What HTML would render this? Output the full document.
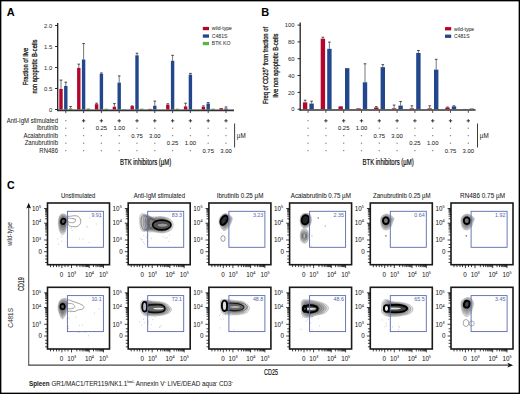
<!DOCTYPE html>
<html><head><meta charset="utf-8"><style>
html,body{margin:0;padding:0;background:#fff;}
svg{display:block;font-family:"Liberation Sans", sans-serif;}
</style></head><body>
<svg width="520" height="394" viewBox="0 0 520 394">
<rect x="0.68" y="0.68" width="518.64" height="392.64" fill="#fff" stroke="#000" stroke-width="1.36"/>
<text x="6.8" y="16.1" font-size="11.8" font-weight="bold" fill="#000" stroke="#000" stroke-width="0.04" textLength="7.93" lengthAdjust="spacingAndGlyphs">A</text>
<line x1="61" y1="80.1" x2="61" y2="88.92" stroke="#555" stroke-width="0.8"/>
<line x1="59.7" y1="80.1" x2="62.3" y2="80.1" stroke="#333" stroke-width="0.9"/>
<rect x="59.3" y="88.92" width="3.4" height="20.58" fill="#b3062a"/>
<line x1="78.8" y1="64.14" x2="78.8" y2="67.92" stroke="#555" stroke-width="0.8"/>
<line x1="77.5" y1="64.14" x2="80.1" y2="64.14" stroke="#333" stroke-width="0.9"/>
<rect x="77.1" y="67.92" width="3.4" height="41.58" fill="#b3062a"/>
<line x1="96.6" y1="103.2" x2="96.6" y2="104.21" stroke="#555" stroke-width="0.8"/>
<line x1="95.3" y1="103.2" x2="97.9" y2="103.2" stroke="#333" stroke-width="0.9"/>
<rect x="94.9" y="104.21" width="3.4" height="5.29" fill="#b3062a"/>
<line x1="114.4" y1="103.62" x2="114.4" y2="106.69" stroke="#555" stroke-width="0.8"/>
<line x1="113.1" y1="103.62" x2="115.7" y2="103.62" stroke="#333" stroke-width="0.9"/>
<rect x="112.7" y="106.69" width="3.4" height="2.81" fill="#b3062a"/>
<line x1="132.2" y1="105.93" x2="132.2" y2="106.14" stroke="#555" stroke-width="0.8"/>
<line x1="130.9" y1="105.93" x2="133.5" y2="105.93" stroke="#333" stroke-width="0.9"/>
<rect x="130.5" y="106.14" width="3.4" height="3.36" fill="#b3062a"/>
<rect x="148.3" y="108.87" width="3.4" height="0.63" fill="#b3062a"/>
<line x1="167.8" y1="103.79" x2="167.8" y2="104.71" stroke="#555" stroke-width="0.8"/>
<line x1="166.5" y1="103.79" x2="169.1" y2="103.79" stroke="#333" stroke-width="0.9"/>
<rect x="166.1" y="104.71" width="3.4" height="4.79" fill="#b3062a"/>
<line x1="185.6" y1="103.2" x2="185.6" y2="106.39" stroke="#555" stroke-width="0.8"/>
<line x1="184.3" y1="103.2" x2="186.9" y2="103.2" stroke="#333" stroke-width="0.9"/>
<rect x="183.9" y="106.39" width="3.4" height="3.11" fill="#b3062a"/>
<line x1="203.4" y1="105.89" x2="203.4" y2="106.81" stroke="#555" stroke-width="0.8"/>
<line x1="202.1" y1="105.89" x2="204.7" y2="105.89" stroke="#333" stroke-width="0.9"/>
<rect x="201.7" y="106.81" width="3.4" height="2.69" fill="#b3062a"/>
<rect x="219.5" y="108.11" width="3.4" height="1.39" fill="#b3062a"/>
<line x1="65.8" y1="82.2" x2="65.8" y2="85.98" stroke="#555" stroke-width="0.8"/>
<line x1="64.5" y1="82.2" x2="67.1" y2="82.2" stroke="#333" stroke-width="0.9"/>
<rect x="64.1" y="85.98" width="3.4" height="23.52" fill="#23478c"/>
<line x1="83.6" y1="43.56" x2="83.6" y2="59.52" stroke="#555" stroke-width="0.8"/>
<line x1="82.3" y1="43.56" x2="84.9" y2="43.56" stroke="#333" stroke-width="0.9"/>
<rect x="81.9" y="59.52" width="3.4" height="49.98" fill="#23478c"/>
<line x1="101.4" y1="72.96" x2="101.4" y2="73.8" stroke="#555" stroke-width="0.8"/>
<line x1="100.1" y1="72.96" x2="102.7" y2="72.96" stroke="#333" stroke-width="0.9"/>
<rect x="99.7" y="73.8" width="3.4" height="35.7" fill="#23478c"/>
<line x1="119.2" y1="75.9" x2="119.2" y2="82.62" stroke="#555" stroke-width="0.8"/>
<line x1="117.9" y1="75.9" x2="120.5" y2="75.9" stroke="#333" stroke-width="0.9"/>
<rect x="117.5" y="82.62" width="3.4" height="26.88" fill="#23478c"/>
<line x1="137" y1="53.22" x2="137" y2="55.32" stroke="#555" stroke-width="0.8"/>
<line x1="135.7" y1="53.22" x2="138.3" y2="53.22" stroke="#333" stroke-width="0.9"/>
<rect x="135.3" y="55.32" width="3.4" height="54.18" fill="#23478c"/>
<line x1="154.8" y1="101.1" x2="154.8" y2="105.72" stroke="#555" stroke-width="0.8"/>
<line x1="153.5" y1="101.1" x2="156.1" y2="101.1" stroke="#333" stroke-width="0.9"/>
<rect x="153.1" y="105.72" width="3.4" height="3.78" fill="#23478c"/>
<line x1="172.6" y1="55.32" x2="172.6" y2="60.78" stroke="#555" stroke-width="0.8"/>
<line x1="171.3" y1="55.32" x2="173.9" y2="55.32" stroke="#333" stroke-width="0.9"/>
<rect x="170.9" y="60.78" width="3.4" height="48.72" fill="#23478c"/>
<line x1="190.4" y1="73.38" x2="190.4" y2="74.64" stroke="#555" stroke-width="0.8"/>
<line x1="189.1" y1="73.38" x2="191.7" y2="73.38" stroke="#333" stroke-width="0.9"/>
<rect x="188.7" y="74.64" width="3.4" height="34.86" fill="#23478c"/>
<line x1="208.2" y1="102.57" x2="208.2" y2="103.49" stroke="#555" stroke-width="0.8"/>
<line x1="206.9" y1="102.57" x2="209.5" y2="102.57" stroke="#333" stroke-width="0.9"/>
<rect x="206.5" y="103.49" width="3.4" height="6.01" fill="#23478c"/>
<line x1="226" y1="106.98" x2="226" y2="108.49" stroke="#555" stroke-width="0.8"/>
<line x1="224.7" y1="106.98" x2="227.3" y2="106.98" stroke="#333" stroke-width="0.9"/>
<rect x="224.3" y="108.49" width="3.4" height="1.01" fill="#23478c"/>
<line x1="70.6" y1="106.56" x2="70.6" y2="108.24" stroke="#555" stroke-width="0.8"/>
<line x1="69.3" y1="106.56" x2="71.9" y2="106.56" stroke="#333" stroke-width="0.9"/>
<rect x="68.9" y="108.24" width="3.4" height="1.26" fill="#5bb446"/>
<rect x="86.7" y="108.45" width="3.4" height="1.05" fill="#5bb446"/>
<rect x="104.5" y="108.66" width="3.4" height="0.84" fill="#5bb446"/>
<rect x="122.3" y="109.16" width="3.4" height="0.34" fill="#5bb446"/>
<rect x="140.1" y="108.66" width="3.4" height="0.84" fill="#5bb446"/>
<rect x="175.7" y="108.66" width="3.4" height="0.84" fill="#5bb446"/>
<rect x="211.3" y="108.66" width="3.4" height="0.84" fill="#5bb446"/>
<line x1="57.7" y1="22.9" x2="57.7" y2="111" stroke="#222" stroke-width="1.3"/>
<line x1="57.1" y1="110.3" x2="234" y2="110.3" stroke="#333" stroke-width="1.7"/>
<line x1="55.1" y1="25.5" x2="57.7" y2="25.5" stroke="#222" stroke-width="1"/>
<text x="52.2" y="27.6" font-size="5.9" text-anchor="end" fill="#333" stroke="#333" stroke-width="0.04">2.0</text>
<line x1="55.1" y1="46.5" x2="57.7" y2="46.5" stroke="#222" stroke-width="1"/>
<text x="52.2" y="48.6" font-size="5.9" text-anchor="end" fill="#333" stroke="#333" stroke-width="0.04">1.5</text>
<line x1="55.1" y1="67.5" x2="57.7" y2="67.5" stroke="#222" stroke-width="1"/>
<text x="52.2" y="69.6" font-size="5.9" text-anchor="end" fill="#333" stroke="#333" stroke-width="0.04">1.0</text>
<line x1="55.1" y1="88.5" x2="57.7" y2="88.5" stroke="#222" stroke-width="1"/>
<text x="52.2" y="90.6" font-size="5.9" text-anchor="end" fill="#333" stroke="#333" stroke-width="0.04">0.5</text>
<line x1="55.1" y1="109.5" x2="57.7" y2="109.5" stroke="#222" stroke-width="1"/>
<text x="52.2" y="111.6" font-size="5.9" text-anchor="end" fill="#333" stroke="#333" stroke-width="0.04">0</text>
<line x1="65.8" y1="111" x2="65.8" y2="113.1" stroke="#222" stroke-width="0.8"/>
<line x1="83.6" y1="111" x2="83.6" y2="113.1" stroke="#222" stroke-width="0.8"/>
<line x1="101.4" y1="111" x2="101.4" y2="113.1" stroke="#222" stroke-width="0.8"/>
<line x1="119.2" y1="111" x2="119.2" y2="113.1" stroke="#222" stroke-width="0.8"/>
<line x1="137" y1="111" x2="137" y2="113.1" stroke="#222" stroke-width="0.8"/>
<line x1="154.8" y1="111" x2="154.8" y2="113.1" stroke="#222" stroke-width="0.8"/>
<line x1="172.6" y1="111" x2="172.6" y2="113.1" stroke="#222" stroke-width="0.8"/>
<line x1="190.4" y1="111" x2="190.4" y2="113.1" stroke="#222" stroke-width="0.8"/>
<line x1="208.2" y1="111" x2="208.2" y2="113.1" stroke="#222" stroke-width="0.8"/>
<line x1="226" y1="111" x2="226" y2="113.1" stroke="#222" stroke-width="0.8"/>
<rect x="202.8" y="26.9" width="6.2" height="3.3" fill="#b3062a"/>
<text x="211.8" y="30.4" font-size="5.1" fill="#333" stroke="#333" stroke-width="0.05">wild-type</text>
<rect x="202.8" y="34.4" width="6.2" height="3.3" fill="#23478c"/>
<text x="211.8" y="37.9" font-size="5.1" fill="#333" stroke="#333" stroke-width="0.05">C481S</text>
<rect x="202.8" y="41.9" width="6.2" height="3.3" fill="#5bb446"/>
<text x="211.8" y="45.4" font-size="5.1" fill="#333" stroke="#333" stroke-width="0.05">BTK KO</text>
<g transform="translate(27.5,66.5) rotate(-90)">
<text x="0" y="0" font-size="7.4" text-anchor="middle" fill="#111" stroke="#111" stroke-width="0.28" textLength="37.3" lengthAdjust="spacingAndGlyphs">Fraction of live</text>
</g>
<g transform="translate(37.3,66.6) rotate(-90)">
<text x="0" y="0" font-size="7.4" text-anchor="middle" fill="#111" stroke="#111" stroke-width="0.28" textLength="54" lengthAdjust="spacingAndGlyphs">non apoptotic B-cells</text>
</g>
<text x="58" y="122.7" font-size="6.4" text-anchor="end" fill="#1e1e1e" stroke="#1e1e1e" stroke-width="0.04" textLength="51.22" lengthAdjust="spacingAndGlyphs">Anti-IgM stimulated</text>
<line x1="65.2" y1="120.7" x2="66.4" y2="120.7" stroke="#444" stroke-width="0.8"/>
<line x1="81.9" y1="120.8" x2="85.3" y2="120.8" stroke="#222" stroke-width="0.85"/>
<line x1="83.6" y1="119.1" x2="83.6" y2="122.5" stroke="#222" stroke-width="0.85"/>
<line x1="99.7" y1="120.8" x2="103.1" y2="120.8" stroke="#222" stroke-width="0.85"/>
<line x1="101.4" y1="119.1" x2="101.4" y2="122.5" stroke="#222" stroke-width="0.85"/>
<line x1="117.5" y1="120.8" x2="120.9" y2="120.8" stroke="#222" stroke-width="0.85"/>
<line x1="119.2" y1="119.1" x2="119.2" y2="122.5" stroke="#222" stroke-width="0.85"/>
<line x1="135.3" y1="120.8" x2="138.7" y2="120.8" stroke="#222" stroke-width="0.85"/>
<line x1="137" y1="119.1" x2="137" y2="122.5" stroke="#222" stroke-width="0.85"/>
<line x1="153.1" y1="120.8" x2="156.5" y2="120.8" stroke="#222" stroke-width="0.85"/>
<line x1="154.8" y1="119.1" x2="154.8" y2="122.5" stroke="#222" stroke-width="0.85"/>
<line x1="170.9" y1="120.8" x2="174.3" y2="120.8" stroke="#222" stroke-width="0.85"/>
<line x1="172.6" y1="119.1" x2="172.6" y2="122.5" stroke="#222" stroke-width="0.85"/>
<line x1="188.7" y1="120.8" x2="192.1" y2="120.8" stroke="#222" stroke-width="0.85"/>
<line x1="190.4" y1="119.1" x2="190.4" y2="122.5" stroke="#222" stroke-width="0.85"/>
<line x1="206.5" y1="120.8" x2="209.9" y2="120.8" stroke="#222" stroke-width="0.85"/>
<line x1="208.2" y1="119.1" x2="208.2" y2="122.5" stroke="#222" stroke-width="0.85"/>
<line x1="224.3" y1="120.8" x2="227.7" y2="120.8" stroke="#222" stroke-width="0.85"/>
<line x1="226" y1="119.1" x2="226" y2="122.5" stroke="#222" stroke-width="0.85"/>
<text x="58" y="130.2" font-size="6.4" text-anchor="end" fill="#1e1e1e" stroke="#1e1e1e" stroke-width="0.04" textLength="21.29" lengthAdjust="spacingAndGlyphs">Ibrutinib</text>
<line x1="65.2" y1="128.2" x2="66.4" y2="128.2" stroke="#444" stroke-width="0.8"/>
<line x1="83" y1="128.2" x2="84.2" y2="128.2" stroke="#444" stroke-width="0.8"/>
<text x="101.4" y="130.1" font-size="5.9" text-anchor="middle" fill="#1e1e1e" stroke="#1e1e1e" stroke-width="0.04">0.25</text>
<text x="119.2" y="130.1" font-size="5.9" text-anchor="middle" fill="#1e1e1e" stroke="#1e1e1e" stroke-width="0.04">1.00</text>
<line x1="136.4" y1="128.2" x2="137.6" y2="128.2" stroke="#444" stroke-width="0.8"/>
<line x1="154.2" y1="128.2" x2="155.4" y2="128.2" stroke="#444" stroke-width="0.8"/>
<line x1="172" y1="128.2" x2="173.2" y2="128.2" stroke="#444" stroke-width="0.8"/>
<line x1="189.8" y1="128.2" x2="191" y2="128.2" stroke="#444" stroke-width="0.8"/>
<line x1="207.6" y1="128.2" x2="208.8" y2="128.2" stroke="#444" stroke-width="0.8"/>
<line x1="225.4" y1="128.2" x2="226.6" y2="128.2" stroke="#444" stroke-width="0.8"/>
<text x="58" y="137.7" font-size="6.4" text-anchor="end" fill="#1e1e1e" stroke="#1e1e1e" stroke-width="0.04" textLength="34.6" lengthAdjust="spacingAndGlyphs">Acalabrutinib</text>
<line x1="65.2" y1="135.7" x2="66.4" y2="135.7" stroke="#444" stroke-width="0.8"/>
<line x1="83" y1="135.7" x2="84.2" y2="135.7" stroke="#444" stroke-width="0.8"/>
<line x1="100.8" y1="135.7" x2="102" y2="135.7" stroke="#444" stroke-width="0.8"/>
<line x1="118.6" y1="135.7" x2="119.8" y2="135.7" stroke="#444" stroke-width="0.8"/>
<text x="137" y="137.6" font-size="5.9" text-anchor="middle" fill="#1e1e1e" stroke="#1e1e1e" stroke-width="0.04">0.75</text>
<text x="154.8" y="137.6" font-size="5.9" text-anchor="middle" fill="#1e1e1e" stroke="#1e1e1e" stroke-width="0.04">3.00</text>
<line x1="172" y1="135.7" x2="173.2" y2="135.7" stroke="#444" stroke-width="0.8"/>
<line x1="189.8" y1="135.7" x2="191" y2="135.7" stroke="#444" stroke-width="0.8"/>
<line x1="207.6" y1="135.7" x2="208.8" y2="135.7" stroke="#444" stroke-width="0.8"/>
<line x1="225.4" y1="135.7" x2="226.6" y2="135.7" stroke="#444" stroke-width="0.8"/>
<text x="58" y="145.2" font-size="6.4" text-anchor="end" fill="#1e1e1e" stroke="#1e1e1e" stroke-width="0.04" textLength="33.27" lengthAdjust="spacingAndGlyphs">Zanubrutinib</text>
<line x1="65.2" y1="143.2" x2="66.4" y2="143.2" stroke="#444" stroke-width="0.8"/>
<line x1="83" y1="143.2" x2="84.2" y2="143.2" stroke="#444" stroke-width="0.8"/>
<line x1="100.8" y1="143.2" x2="102" y2="143.2" stroke="#444" stroke-width="0.8"/>
<line x1="118.6" y1="143.2" x2="119.8" y2="143.2" stroke="#444" stroke-width="0.8"/>
<line x1="136.4" y1="143.2" x2="137.6" y2="143.2" stroke="#444" stroke-width="0.8"/>
<line x1="154.2" y1="143.2" x2="155.4" y2="143.2" stroke="#444" stroke-width="0.8"/>
<text x="172.6" y="145.1" font-size="5.9" text-anchor="middle" fill="#1e1e1e" stroke="#1e1e1e" stroke-width="0.04">0.25</text>
<text x="190.4" y="145.1" font-size="5.9" text-anchor="middle" fill="#1e1e1e" stroke="#1e1e1e" stroke-width="0.04">1.00</text>
<line x1="207.6" y1="143.2" x2="208.8" y2="143.2" stroke="#444" stroke-width="0.8"/>
<line x1="225.4" y1="143.2" x2="226.6" y2="143.2" stroke="#444" stroke-width="0.8"/>
<text x="58" y="152.7" font-size="6.4" text-anchor="end" fill="#1e1e1e" stroke="#1e1e1e" stroke-width="0.04" textLength="18.63" lengthAdjust="spacingAndGlyphs">RN486</text>
<line x1="65.2" y1="150.7" x2="66.4" y2="150.7" stroke="#444" stroke-width="0.8"/>
<line x1="83" y1="150.7" x2="84.2" y2="150.7" stroke="#444" stroke-width="0.8"/>
<line x1="100.8" y1="150.7" x2="102" y2="150.7" stroke="#444" stroke-width="0.8"/>
<line x1="118.6" y1="150.7" x2="119.8" y2="150.7" stroke="#444" stroke-width="0.8"/>
<line x1="136.4" y1="150.7" x2="137.6" y2="150.7" stroke="#444" stroke-width="0.8"/>
<line x1="154.2" y1="150.7" x2="155.4" y2="150.7" stroke="#444" stroke-width="0.8"/>
<line x1="172" y1="150.7" x2="173.2" y2="150.7" stroke="#444" stroke-width="0.8"/>
<line x1="189.8" y1="150.7" x2="191" y2="150.7" stroke="#444" stroke-width="0.8"/>
<text x="208.2" y="152.6" font-size="5.9" text-anchor="middle" fill="#1e1e1e" stroke="#1e1e1e" stroke-width="0.04">0.75</text>
<text x="226" y="152.6" font-size="5.9" text-anchor="middle" fill="#1e1e1e" stroke="#1e1e1e" stroke-width="0.04">3.00</text>
<line x1="234.6" y1="123.5" x2="234.6" y2="147.5" stroke="#333" stroke-width="0.95"/>
<text x="236.8" y="137.9" font-size="6.3" fill="#1e1e1e" stroke="#1e1e1e" stroke-width="0.04">&#181;M</text>
<text x="120" y="164.5" font-size="8.5" fill="#111" stroke="#111" stroke-width="0.22" textLength="51.2" lengthAdjust="spacingAndGlyphs">BTK inhibitors (&#181;M)</text>
<text x="261.3" y="16.1" font-size="11.8" font-weight="bold" fill="#000" stroke="#000" stroke-width="0.04" textLength="7.93" lengthAdjust="spacingAndGlyphs">B</text>
<line x1="305.1" y1="100.2" x2="305.1" y2="102.39" stroke="#555" stroke-width="0.8"/>
<line x1="303.8" y1="100.2" x2="306.4" y2="100.2" stroke="#333" stroke-width="0.9"/>
<rect x="302.9" y="102.39" width="4.4" height="6.81" fill="#b3062a"/>
<line x1="322.9" y1="37.21" x2="322.9" y2="38.72" stroke="#555" stroke-width="0.8"/>
<line x1="321.6" y1="37.21" x2="324.2" y2="37.21" stroke="#333" stroke-width="0.9"/>
<rect x="320.7" y="38.72" width="4.4" height="70.48" fill="#b3062a"/>
<rect x="338.5" y="106.34" width="4.4" height="2.86" fill="#b3062a"/>
<rect x="356.3" y="108.36" width="4.4" height="0.84" fill="#b3062a"/>
<line x1="376.3" y1="106.68" x2="376.3" y2="107.52" stroke="#555" stroke-width="0.8"/>
<line x1="375" y1="106.68" x2="377.6" y2="106.68" stroke="#333" stroke-width="0.9"/>
<rect x="374.1" y="107.52" width="4.4" height="1.68" fill="#b3062a"/>
<line x1="394.1" y1="105.08" x2="394.1" y2="108.36" stroke="#555" stroke-width="0.8"/>
<line x1="392.8" y1="105.08" x2="395.4" y2="105.08" stroke="#333" stroke-width="0.9"/>
<rect x="391.9" y="108.36" width="4.4" height="0.84" fill="#b3062a"/>
<line x1="411.9" y1="105.84" x2="411.9" y2="108.36" stroke="#555" stroke-width="0.8"/>
<line x1="410.6" y1="105.84" x2="413.2" y2="105.84" stroke="#333" stroke-width="0.9"/>
<rect x="409.7" y="108.36" width="4.4" height="0.84" fill="#b3062a"/>
<line x1="429.7" y1="105.84" x2="429.7" y2="108.36" stroke="#555" stroke-width="0.8"/>
<line x1="428.4" y1="105.84" x2="431" y2="105.84" stroke="#333" stroke-width="0.9"/>
<rect x="427.5" y="108.36" width="4.4" height="0.84" fill="#b3062a"/>
<line x1="447.5" y1="107.1" x2="447.5" y2="107.6" stroke="#555" stroke-width="0.8"/>
<line x1="446.2" y1="107.1" x2="448.8" y2="107.1" stroke="#333" stroke-width="0.9"/>
<rect x="445.3" y="107.6" width="4.4" height="1.6" fill="#b3062a"/>
<rect x="463.1" y="108.95" width="4.4" height="0.25" fill="#b3062a"/>
<line x1="311.6" y1="101.21" x2="311.6" y2="103.57" stroke="#555" stroke-width="0.8"/>
<line x1="310.3" y1="101.21" x2="312.9" y2="101.21" stroke="#333" stroke-width="0.9"/>
<rect x="309.4" y="103.57" width="4.4" height="5.63" fill="#23478c"/>
<line x1="329.4" y1="42.09" x2="329.4" y2="48.82" stroke="#555" stroke-width="0.8"/>
<line x1="328.1" y1="42.09" x2="330.7" y2="42.09" stroke="#333" stroke-width="0.9"/>
<rect x="327.2" y="48.82" width="4.4" height="60.38" fill="#23478c"/>
<rect x="345" y="68.16" width="4.4" height="41.04" fill="#23478c"/>
<line x1="365" y1="63.79" x2="365" y2="82.29" stroke="#555" stroke-width="0.8"/>
<line x1="363.7" y1="63.79" x2="366.3" y2="63.79" stroke="#333" stroke-width="0.9"/>
<rect x="362.8" y="82.29" width="4.4" height="26.91" fill="#23478c"/>
<line x1="382.8" y1="64.63" x2="382.8" y2="67.15" stroke="#555" stroke-width="0.8"/>
<line x1="381.5" y1="64.63" x2="384.1" y2="64.63" stroke="#333" stroke-width="0.9"/>
<rect x="380.6" y="67.15" width="4.4" height="42.05" fill="#23478c"/>
<line x1="400.6" y1="101.46" x2="400.6" y2="105.58" stroke="#555" stroke-width="0.8"/>
<line x1="399.3" y1="101.46" x2="401.9" y2="101.46" stroke="#333" stroke-width="0.9"/>
<rect x="398.4" y="105.58" width="4.4" height="3.62" fill="#23478c"/>
<line x1="418.4" y1="50.5" x2="418.4" y2="52.94" stroke="#555" stroke-width="0.8"/>
<line x1="417.1" y1="50.5" x2="419.7" y2="50.5" stroke="#333" stroke-width="0.9"/>
<rect x="416.2" y="52.94" width="4.4" height="56.26" fill="#23478c"/>
<line x1="436.2" y1="59.33" x2="436.2" y2="69.59" stroke="#555" stroke-width="0.8"/>
<line x1="434.9" y1="59.33" x2="437.5" y2="59.33" stroke="#333" stroke-width="0.9"/>
<rect x="434" y="69.59" width="4.4" height="39.61" fill="#23478c"/>
<line x1="454" y1="105.84" x2="454" y2="106.42" stroke="#555" stroke-width="0.8"/>
<line x1="452.7" y1="105.84" x2="455.3" y2="105.84" stroke="#333" stroke-width="0.9"/>
<rect x="451.8" y="106.42" width="4.4" height="2.78" fill="#23478c"/>
<rect x="469.6" y="108.53" width="4.4" height="0.67" fill="#23478c"/>
<line x1="300.2" y1="22.5" x2="300.2" y2="110.7" stroke="#222" stroke-width="1.3"/>
<line x1="299.6" y1="110" x2="475.6" y2="110" stroke="#333" stroke-width="1.7"/>
<line x1="297.6" y1="25.1" x2="300.2" y2="25.1" stroke="#222" stroke-width="1"/>
<text x="294.6" y="27.2" font-size="5.9" text-anchor="end" fill="#333" stroke="#333" stroke-width="0.04">100</text>
<line x1="297.6" y1="41.9" x2="300.2" y2="41.9" stroke="#222" stroke-width="1"/>
<text x="294.6" y="44" font-size="5.9" text-anchor="end" fill="#333" stroke="#333" stroke-width="0.04">80</text>
<line x1="297.6" y1="58.7" x2="300.2" y2="58.7" stroke="#222" stroke-width="1"/>
<text x="294.6" y="60.8" font-size="5.9" text-anchor="end" fill="#333" stroke="#333" stroke-width="0.04">60</text>
<line x1="297.6" y1="75.5" x2="300.2" y2="75.5" stroke="#222" stroke-width="1"/>
<text x="294.6" y="77.6" font-size="5.9" text-anchor="end" fill="#333" stroke="#333" stroke-width="0.04">40</text>
<line x1="297.6" y1="92.4" x2="300.2" y2="92.4" stroke="#222" stroke-width="1"/>
<text x="294.6" y="94.5" font-size="5.9" text-anchor="end" fill="#333" stroke="#333" stroke-width="0.04">20</text>
<line x1="297.6" y1="109.2" x2="300.2" y2="109.2" stroke="#222" stroke-width="1"/>
<text x="294.6" y="111.3" font-size="5.9" text-anchor="end" fill="#333" stroke="#333" stroke-width="0.04">0</text>
<line x1="308.1" y1="110.7" x2="308.1" y2="112.8" stroke="#222" stroke-width="0.8"/>
<line x1="325.9" y1="110.7" x2="325.9" y2="112.8" stroke="#222" stroke-width="0.8"/>
<line x1="343.7" y1="110.7" x2="343.7" y2="112.8" stroke="#222" stroke-width="0.8"/>
<line x1="361.5" y1="110.7" x2="361.5" y2="112.8" stroke="#222" stroke-width="0.8"/>
<line x1="379.3" y1="110.7" x2="379.3" y2="112.8" stroke="#222" stroke-width="0.8"/>
<line x1="397.1" y1="110.7" x2="397.1" y2="112.8" stroke="#222" stroke-width="0.8"/>
<line x1="414.9" y1="110.7" x2="414.9" y2="112.8" stroke="#222" stroke-width="0.8"/>
<line x1="432.7" y1="110.7" x2="432.7" y2="112.8" stroke="#222" stroke-width="0.8"/>
<line x1="450.5" y1="110.7" x2="450.5" y2="112.8" stroke="#222" stroke-width="0.8"/>
<line x1="468.3" y1="110.7" x2="468.3" y2="112.8" stroke="#222" stroke-width="0.8"/>
<rect x="445" y="27.1" width="6.2" height="3.3" fill="#b3062a"/>
<text x="454" y="30.6" font-size="5.1" fill="#333" stroke="#333" stroke-width="0.05">wild-type</text>
<rect x="445" y="34.6" width="6.2" height="3.3" fill="#23478c"/>
<text x="454" y="38.1" font-size="5.1" fill="#333" stroke="#333" stroke-width="0.05">C481S</text>
<g transform="translate(267.9,65.5) rotate(-90)">
<text x="0" y="0" font-size="7.4" text-anchor="middle" fill="#111" stroke="#111" stroke-width="0.28" textLength="77" lengthAdjust="spacingAndGlyphs">Freq of CD25<tspan font-size='4.5' dy='-2.5'>+</tspan><tspan dy='2.5'> from fraction of</tspan></text>
</g>
<g transform="translate(277.8,65.5) rotate(-90)">
<text x="0" y="0" font-size="7.4" text-anchor="middle" fill="#111" stroke="#111" stroke-width="0.28" textLength="64" lengthAdjust="spacingAndGlyphs">live non apoptotic B-cells</text>
</g>
<line x1="307.5" y1="120.7" x2="308.7" y2="120.7" stroke="#444" stroke-width="0.8"/>
<line x1="324.2" y1="120.8" x2="327.6" y2="120.8" stroke="#222" stroke-width="0.85"/>
<line x1="325.9" y1="119.1" x2="325.9" y2="122.5" stroke="#222" stroke-width="0.85"/>
<line x1="342" y1="120.8" x2="345.4" y2="120.8" stroke="#222" stroke-width="0.85"/>
<line x1="343.7" y1="119.1" x2="343.7" y2="122.5" stroke="#222" stroke-width="0.85"/>
<line x1="359.8" y1="120.8" x2="363.2" y2="120.8" stroke="#222" stroke-width="0.85"/>
<line x1="361.5" y1="119.1" x2="361.5" y2="122.5" stroke="#222" stroke-width="0.85"/>
<line x1="377.6" y1="120.8" x2="381" y2="120.8" stroke="#222" stroke-width="0.85"/>
<line x1="379.3" y1="119.1" x2="379.3" y2="122.5" stroke="#222" stroke-width="0.85"/>
<line x1="395.4" y1="120.8" x2="398.8" y2="120.8" stroke="#222" stroke-width="0.85"/>
<line x1="397.1" y1="119.1" x2="397.1" y2="122.5" stroke="#222" stroke-width="0.85"/>
<line x1="413.2" y1="120.8" x2="416.6" y2="120.8" stroke="#222" stroke-width="0.85"/>
<line x1="414.9" y1="119.1" x2="414.9" y2="122.5" stroke="#222" stroke-width="0.85"/>
<line x1="431" y1="120.8" x2="434.4" y2="120.8" stroke="#222" stroke-width="0.85"/>
<line x1="432.7" y1="119.1" x2="432.7" y2="122.5" stroke="#222" stroke-width="0.85"/>
<line x1="448.8" y1="120.8" x2="452.2" y2="120.8" stroke="#222" stroke-width="0.85"/>
<line x1="450.5" y1="119.1" x2="450.5" y2="122.5" stroke="#222" stroke-width="0.85"/>
<line x1="466.6" y1="120.8" x2="470" y2="120.8" stroke="#222" stroke-width="0.85"/>
<line x1="468.3" y1="119.1" x2="468.3" y2="122.5" stroke="#222" stroke-width="0.85"/>
<line x1="307.5" y1="128.2" x2="308.7" y2="128.2" stroke="#444" stroke-width="0.8"/>
<line x1="325.3" y1="128.2" x2="326.5" y2="128.2" stroke="#444" stroke-width="0.8"/>
<text x="343.7" y="130.1" font-size="5.9" text-anchor="middle" fill="#1e1e1e" stroke="#1e1e1e" stroke-width="0.04">0.25</text>
<text x="361.5" y="130.1" font-size="5.9" text-anchor="middle" fill="#1e1e1e" stroke="#1e1e1e" stroke-width="0.04">1.00</text>
<line x1="378.7" y1="128.2" x2="379.9" y2="128.2" stroke="#444" stroke-width="0.8"/>
<line x1="396.5" y1="128.2" x2="397.7" y2="128.2" stroke="#444" stroke-width="0.8"/>
<line x1="414.3" y1="128.2" x2="415.5" y2="128.2" stroke="#444" stroke-width="0.8"/>
<line x1="432.1" y1="128.2" x2="433.3" y2="128.2" stroke="#444" stroke-width="0.8"/>
<line x1="449.9" y1="128.2" x2="451.1" y2="128.2" stroke="#444" stroke-width="0.8"/>
<line x1="467.7" y1="128.2" x2="468.9" y2="128.2" stroke="#444" stroke-width="0.8"/>
<line x1="307.5" y1="135.7" x2="308.7" y2="135.7" stroke="#444" stroke-width="0.8"/>
<line x1="325.3" y1="135.7" x2="326.5" y2="135.7" stroke="#444" stroke-width="0.8"/>
<line x1="343.1" y1="135.7" x2="344.3" y2="135.7" stroke="#444" stroke-width="0.8"/>
<line x1="360.9" y1="135.7" x2="362.1" y2="135.7" stroke="#444" stroke-width="0.8"/>
<text x="379.3" y="137.6" font-size="5.9" text-anchor="middle" fill="#1e1e1e" stroke="#1e1e1e" stroke-width="0.04">0.75</text>
<text x="397.1" y="137.6" font-size="5.9" text-anchor="middle" fill="#1e1e1e" stroke="#1e1e1e" stroke-width="0.04">3.00</text>
<line x1="414.3" y1="135.7" x2="415.5" y2="135.7" stroke="#444" stroke-width="0.8"/>
<line x1="432.1" y1="135.7" x2="433.3" y2="135.7" stroke="#444" stroke-width="0.8"/>
<line x1="449.9" y1="135.7" x2="451.1" y2="135.7" stroke="#444" stroke-width="0.8"/>
<line x1="467.7" y1="135.7" x2="468.9" y2="135.7" stroke="#444" stroke-width="0.8"/>
<line x1="307.5" y1="143.2" x2="308.7" y2="143.2" stroke="#444" stroke-width="0.8"/>
<line x1="325.3" y1="143.2" x2="326.5" y2="143.2" stroke="#444" stroke-width="0.8"/>
<line x1="343.1" y1="143.2" x2="344.3" y2="143.2" stroke="#444" stroke-width="0.8"/>
<line x1="360.9" y1="143.2" x2="362.1" y2="143.2" stroke="#444" stroke-width="0.8"/>
<line x1="378.7" y1="143.2" x2="379.9" y2="143.2" stroke="#444" stroke-width="0.8"/>
<line x1="396.5" y1="143.2" x2="397.7" y2="143.2" stroke="#444" stroke-width="0.8"/>
<text x="414.9" y="145.1" font-size="5.9" text-anchor="middle" fill="#1e1e1e" stroke="#1e1e1e" stroke-width="0.04">0.25</text>
<text x="432.7" y="145.1" font-size="5.9" text-anchor="middle" fill="#1e1e1e" stroke="#1e1e1e" stroke-width="0.04">1.00</text>
<line x1="449.9" y1="143.2" x2="451.1" y2="143.2" stroke="#444" stroke-width="0.8"/>
<line x1="467.7" y1="143.2" x2="468.9" y2="143.2" stroke="#444" stroke-width="0.8"/>
<line x1="307.5" y1="150.7" x2="308.7" y2="150.7" stroke="#444" stroke-width="0.8"/>
<line x1="325.3" y1="150.7" x2="326.5" y2="150.7" stroke="#444" stroke-width="0.8"/>
<line x1="343.1" y1="150.7" x2="344.3" y2="150.7" stroke="#444" stroke-width="0.8"/>
<line x1="360.9" y1="150.7" x2="362.1" y2="150.7" stroke="#444" stroke-width="0.8"/>
<line x1="378.7" y1="150.7" x2="379.9" y2="150.7" stroke="#444" stroke-width="0.8"/>
<line x1="396.5" y1="150.7" x2="397.7" y2="150.7" stroke="#444" stroke-width="0.8"/>
<line x1="414.3" y1="150.7" x2="415.5" y2="150.7" stroke="#444" stroke-width="0.8"/>
<line x1="432.1" y1="150.7" x2="433.3" y2="150.7" stroke="#444" stroke-width="0.8"/>
<text x="450.5" y="152.6" font-size="5.9" text-anchor="middle" fill="#1e1e1e" stroke="#1e1e1e" stroke-width="0.04">0.75</text>
<text x="468.3" y="152.6" font-size="5.9" text-anchor="middle" fill="#1e1e1e" stroke="#1e1e1e" stroke-width="0.04">3.00</text>
<line x1="477.5" y1="123.5" x2="477.5" y2="147.5" stroke="#333" stroke-width="0.95"/>
<text x="479.8" y="137.9" font-size="6.3" fill="#1e1e1e" stroke="#1e1e1e" stroke-width="0.04">&#181;M</text>
<text x="362.5" y="164.5" font-size="8.5" fill="#111" stroke="#111" stroke-width="0.22" textLength="51.2" lengthAdjust="spacingAndGlyphs">BTK inhibitors (&#181;M)</text>
<path d="M79.71,220.22h0.8M89.53,218.03h0.8M86.08,226.24h0.8M71.74,230.21h0.8M71.12,228.14h0.8M72.1,218.54h0.8M82.74,239.15h0.8M73.71,222.25h0.8M88.82,242.54h0.8M87.31,227.11h0.8M99.29,217.3h0.8M95.75,224.11h0.8M74.33,219.3h0.8M79.25,238.85h0.8" stroke="#b0b0b0" stroke-width="0.8"/>
<path d="M58.27,244.14h0.8M61.47,241.21h0.8M60.83,236.88h0.8M57.42,238.88h0.8" stroke="#b0b0b0" stroke-width="0.8"/>
<path d="M146.16,237.41h0.8M141.77,239.78h0.8M143.44,235.5h0.8M147.53,241.48h0.8M140.93,239.62h0.8M144.3,244.13h0.8M146.75,235.32h0.8M149.76,232.77h0.8M143.02,242.36h0.8M139.82,238.33h0.8" stroke="#b0b0b0" stroke-width="0.8"/>
<path d="M150.86,238.68h0.8M166.82,237.73h0.8M169.26,235.14h0.8M165.3,237.94h0.8M162.76,236.56h0.8M168.48,241.45h0.8" stroke="#b0b0b0" stroke-width="0.8"/>
<path d="M82.12,325.25h0.8M68.06,326.45h0.8M88,335.78h0.8M93.95,313.11h0.8M79.12,325.4h0.8M66.77,318.77h0.8M71.71,307.75h0.8M68,328.58h0.8M70.4,311.92h0.8M79.29,331.89h0.8M68.74,318.37h0.8M84.68,332.27h0.8M93.86,331.65h0.8M75.47,317.29h0.8M78.2,332.29h0.8M98.56,308.83h0.8" stroke="#b0b0b0" stroke-width="0.8"/>
<path d="M143.05,319.25h0.8M144.37,322.79h0.8M152.55,319.68h0.8M139.09,321.87h0.8M147.49,323.93h0.8M160.92,325.67h0.8M150.86,324.65h0.8M154.55,316.76h0.8M159.69,326.92h0.8M159.11,327.17h0.8M148.02,321.59h0.8M141.38,324.88h0.8" stroke="#b0b0b0" stroke-width="0.8"/>
<path d="M220.06,314.14h0.8M222.55,315.76h0.8M224.78,313.89h0.8M219,315.57h0.8M220.72,319.18h0.8M219.43,327.86h0.8M229.44,315.53h0.8M223.29,318.91h0.8M225.19,315.09h0.8M233.43,329.88h0.8" stroke="#b0b0b0" stroke-width="0.8"/>
<path d="M310.25,322.77h0.8M301.89,317.43h0.8M307.54,319.71h0.8M318.23,318.26h0.8M300.51,329.31h0.8M311.62,318.05h0.8M311.95,316.38h0.8M311.62,329.7h0.8M318.99,325.75h0.8M305.74,321.13h0.8" stroke="#b0b0b0" stroke-width="0.8"/>
<path d="M384.51,326.81h0.8M392.18,326.91h0.8M387.92,319.12h0.8M398.04,329.79h0.8M398.91,327.29h0.8M398.18,326.36h0.8M385.76,323.25h0.8M388.47,316.41h0.8M381.59,319.91h0.8M386.44,325.7h0.8" stroke="#b0b0b0" stroke-width="0.8"/>
<path d="M311.57,236.6h0.8M311.37,245.8h0.8M311.55,235.2h0.8" stroke="#b0b0b0" stroke-width="0.8"/>
<defs><filter id="bl" x="-10%" y="-10%" width="120%" height="120%"><feGaussianBlur stdDeviation="0.35"/></filter></defs><g filter="url(#bl)">
<path d="M62.6,213.8C63.62,213.87 65.63,214.03 66.4,215.3C67.17,216.57 67.2,219.37 67.2,221.4C67.2,223.43 66.78,225.6 66.4,227.5C66.02,229.4 65.6,231.58 64.9,232.8C64.2,234.02 63.02,234.92 62.2,234.8C61.38,234.68 60.63,233.7 60,232.1C59.37,230.5 58.6,227.48 58.4,225.2C58.2,222.92 58.48,220.12 58.8,218.4C59.12,216.68 59.67,215.67 60.3,214.9C60.93,214.13 61.58,213.73 62.6,213.8Z" fill="#000" fill-opacity="0.1" stroke="#222" stroke-opacity="0.45" stroke-width="0.4"/>
<path d="M62.67,214.64C63.57,214.7 65.34,214.85 66.02,215.96C66.69,217.07 66.72,219.54 66.72,221.33C66.72,223.12 66.35,225.02 66.02,226.7C65.68,228.37 65.31,230.29 64.7,231.36C64.08,232.43 63.04,233.22 62.32,233.12C61.6,233.02 60.94,232.15 60.38,230.74C59.83,229.34 59.15,226.68 58.98,224.67C58.8,222.66 59.05,220.2 59.33,218.69C59.61,217.18 60.09,216.28 60.65,215.61C61.21,214.93 61.78,214.58 62.67,214.64Z" fill="#000" fill-opacity="0.1" stroke="#222" stroke-opacity="0.54" stroke-width="0.4"/>
<path d="M62.74,215.48C63.52,215.53 65.05,215.66 65.63,216.62C66.21,217.58 66.24,219.71 66.24,221.26C66.24,222.8 65.92,224.45 65.63,225.89C65.34,227.34 65.02,229 64.49,229.92C63.96,230.84 63.06,231.53 62.44,231.44C61.82,231.35 61.25,230.6 60.77,229.39C60.29,228.17 59.7,225.88 59.55,224.14C59.4,222.41 59.62,220.28 59.86,218.98C60.1,217.67 60.51,216.9 61,216.32C61.48,215.73 61.97,215.43 62.74,215.48Z" fill="#000" fill-opacity="0.1" stroke="#222" stroke-opacity="0.63" stroke-width="0.4"/>
<path d="M62.82,216.32C63.47,216.36 64.76,216.47 65.25,217.28C65.74,218.09 65.76,219.88 65.76,221.18C65.76,222.49 65.49,223.87 65.25,225.09C65,226.3 64.74,227.7 64.29,228.48C63.84,229.26 63.08,229.83 62.56,229.76C62.04,229.69 61.56,229.06 61.15,228.03C60.75,227.01 60.26,225.08 60.13,223.62C60,222.15 60.18,220.36 60.38,219.26C60.59,218.17 60.94,217.51 61.34,217.02C61.75,216.53 62.17,216.28 62.82,216.32Z" fill="#000" fill-opacity="0.1" stroke="#222" stroke-opacity="0.73" stroke-width="0.4"/>
<path d="M62.89,217.16C63.42,217.19 64.47,217.28 64.86,217.94C65.26,218.6 65.28,220.05 65.28,221.11C65.28,222.17 65.06,223.3 64.86,224.28C64.66,225.27 64.45,226.41 64.08,227.04C63.72,227.67 63.1,228.14 62.68,228.08C62.26,228.02 61.87,227.51 61.54,226.68C61.21,225.84 60.81,224.28 60.7,223.09C60.6,221.9 60.75,220.44 60.91,219.55C61.08,218.66 61.36,218.13 61.69,217.73C62.02,217.33 62.36,217.13 62.89,217.16Z" fill="#000" fill-opacity="0.1" stroke="#222" stroke-opacity="0.82" stroke-width="0.4"/>
<path d="M62.96,218C63.37,218.03 64.17,218.09 64.48,218.6C64.79,219.11 64.8,220.23 64.8,221.04C64.8,221.85 64.63,222.72 64.48,223.48C64.33,224.24 64.16,225.11 63.88,225.6C63.6,226.09 63.13,226.45 62.8,226.4C62.47,226.35 62.17,225.96 61.92,225.32C61.67,224.68 61.36,223.47 61.28,222.56C61.2,221.65 61.31,220.53 61.44,219.84C61.57,219.15 61.79,218.75 62.04,218.44C62.29,218.13 62.55,217.97 62.96,218Z" fill="#000" fill-opacity="0.1" stroke="#222" stroke-opacity="0.91" stroke-width="0.4"/>
<path d="M63.03,218.84C63.32,218.86 63.88,218.91 64.1,219.26C64.31,219.61 64.32,220.4 64.32,220.97C64.32,221.54 64.2,222.14 64.1,222.68C63.99,223.21 63.87,223.82 63.68,224.16C63.48,224.5 63.15,224.75 62.92,224.72C62.69,224.69 62.48,224.41 62.3,223.96C62.13,223.52 61.91,222.67 61.86,222.03C61.8,221.39 61.88,220.61 61.97,220.13C62.06,219.65 62.21,219.36 62.39,219.15C62.57,218.93 62.75,218.82 63.03,218.84Z" fill="#000" fill-opacity="0.1" stroke="#222" stroke-opacity="1.00" stroke-width="0.4"/>
<ellipse cx="63.30" cy="221.30" rx="2.20" ry="2.80" fill="#555" stroke="#000" stroke-width="1.6" opacity="1" transform="rotate(20 63.30 221.30)"/>
<path d="M67.6,217.2C68.02,215.77 69.8,216.45 71,216.2C72.2,215.95 73.6,215.65 74.8,215.7C76,215.75 77.23,215.87 78.2,216.5C79.17,217.13 80.23,218.33 80.6,219.5C80.97,220.67 80.92,222.35 80.4,223.5C79.88,224.65 78.82,225.88 77.5,226.4C76.18,226.92 74,226.87 72.5,226.6C71,226.33 69.32,226.37 68.5,224.8C67.68,223.23 67.18,218.63 67.6,217.2Z" fill="none" stroke="#333" stroke-width="0.45"/>
<path d="M68,218.4C68.58,217.9 70.25,218.37 71.5,218.5C72.75,218.63 75,218.58 75.5,219.2C76,219.82 75.33,221.63 74.5,222.2C73.67,222.77 71.58,222.72 70.5,222.6C69.42,222.48 68.42,222.2 68,221.5C67.58,220.8 67.42,218.9 68,218.4Z" fill="none" stroke="#444" stroke-width="0.45"/>
<path d="M140.2,215.2C140.98,213.55 142.48,213.62 144.5,213.9C146.52,214.18 149.55,216.47 152.3,216.9C155.05,217.33 158.12,216.2 161,216.5C163.88,216.8 167.58,217.48 169.6,218.7C171.62,219.92 172.82,221.93 173.1,223.8C173.38,225.67 172.9,228.38 171.3,229.9C169.7,231.42 166.23,232.53 163.5,232.9C160.77,233.27 157.48,232.38 154.9,232.1C152.32,231.82 150.17,231.42 148,231.2C145.83,230.98 143.27,232.03 141.9,230.8C140.53,229.57 140.08,226.4 139.8,223.8C139.52,221.2 139.42,216.85 140.2,215.2Z" fill="#000" fill-opacity="0.11" stroke="#222" stroke-opacity="0.45" stroke-width="0.4"/>
<path d="M141.98,216.13C142.69,214.64 144.03,214.71 145.85,214.96C147.66,215.22 150.4,217.27 152.87,217.66C155.34,218.05 158.1,217.03 160.7,217.3C163.29,217.57 166.62,218.19 168.44,219.28C170.25,220.38 171.34,222.19 171.59,223.87C171.84,225.55 171.41,228 169.97,229.36C168.53,230.73 165.41,231.73 162.95,232.06C160.49,232.39 157.53,231.59 155.21,231.34C152.89,231.09 150.95,230.72 149,230.53C147.05,230.34 144.74,231.28 143.51,230.17C142.28,229.06 141.88,226.21 141.62,223.87C141.37,221.53 141.27,217.62 141.98,216.13Z" fill="#000" fill-opacity="0.11" stroke="#222" stroke-opacity="0.56" stroke-width="0.4"/>
<path d="M143.76,217.06C144.39,215.74 145.59,215.79 147.2,216.02C148.81,216.25 151.24,218.07 153.44,218.42C155.64,218.77 158.09,217.86 160.4,218.1C162.71,218.34 165.67,218.89 167.28,219.86C168.89,220.83 169.85,222.45 170.08,223.94C170.31,225.43 169.92,227.61 168.64,228.82C167.36,230.03 164.59,230.93 162.4,231.22C160.21,231.51 157.59,230.81 155.52,230.58C153.45,230.35 151.73,230.03 150,229.86C148.27,229.69 146.21,230.53 145.12,229.54C144.03,228.55 143.67,226.02 143.44,223.94C143.21,221.86 143.13,218.38 143.76,217.06Z" fill="#000" fill-opacity="0.11" stroke="#222" stroke-opacity="0.67" stroke-width="0.4"/>
<path d="M145.54,217.99C146.09,216.83 147.14,216.88 148.55,217.08C149.96,217.28 152.09,218.88 154.01,219.18C155.94,219.48 158.08,218.69 160.1,218.9C162.12,219.11 164.71,219.59 166.12,220.44C167.53,221.29 168.37,222.7 168.57,224.01C168.77,225.32 168.43,227.22 167.31,228.28C166.19,229.34 163.76,230.12 161.85,230.38C159.94,230.64 157.64,230.02 155.83,229.82C154.02,229.62 152.52,229.34 151,229.19C149.48,229.04 147.69,229.77 146.73,228.91C145.77,228.05 145.46,225.83 145.26,224.01C145.06,222.19 144.99,219.14 145.54,217.99Z" fill="#000" fill-opacity="0.11" stroke="#222" stroke-opacity="0.78" stroke-width="0.4"/>
<path d="M147.32,218.92C147.79,217.93 148.69,217.97 149.9,218.14C151.11,218.31 152.93,219.68 154.58,219.94C156.23,220.2 158.07,219.52 159.8,219.7C161.53,219.88 163.75,220.29 164.96,221.02C166.17,221.75 166.89,222.96 167.06,224.08C167.23,225.2 166.94,226.83 165.98,227.74C165.02,228.65 162.94,229.32 161.3,229.54C159.66,229.76 157.69,229.23 156.14,229.06C154.59,228.89 153.3,228.65 152,228.52C150.7,228.39 149.16,229.02 148.34,228.28C147.52,227.54 147.25,225.64 147.08,224.08C146.91,222.52 146.85,219.91 147.32,218.92Z" fill="#000" fill-opacity="0.11" stroke="#222" stroke-opacity="0.89" stroke-width="0.4"/>
<path d="M149.1,219.85C149.49,219.02 150.24,219.06 151.25,219.2C152.26,219.34 153.78,220.48 155.15,220.7C156.53,220.92 158.06,220.35 159.5,220.5C160.94,220.65 162.79,220.99 163.8,221.6C164.81,222.21 165.41,223.22 165.55,224.15C165.69,225.08 165.45,226.44 164.65,227.2C163.85,227.96 162.12,228.52 160.75,228.7C159.38,228.88 157.74,228.44 156.45,228.3C155.16,228.16 154.08,227.96 153,227.85C151.92,227.74 150.63,228.27 149.95,227.65C149.27,227.03 149.04,225.45 148.9,224.15C148.76,222.85 148.71,220.68 149.1,219.85Z" fill="#000" fill-opacity="0.11" stroke="#222" stroke-opacity="1.00" stroke-width="0.4"/>
<ellipse cx="161.80" cy="225.00" rx="9.20" ry="4.90" fill="#555" stroke="#000" stroke-width="1.6" opacity="1"/>
<ellipse cx="162.50" cy="225.20" rx="5.50" ry="2.00" fill="#999" stroke="#333" stroke-width="0.6" opacity="1"/>
<path d="M141.5,217C142.33,215.67 144.83,215.5 146,216C147.17,216.5 148.17,218 148.5,220C148.83,222 148.83,226.42 148,228C147.17,229.58 144.67,230.17 143.5,229.5C142.33,228.83 141.33,226.08 141,224C140.67,221.92 140.67,218.33 141.5,217Z" fill="none" stroke="#444" stroke-width="0.5"/>
<path d="M224.8,213.6C226.2,213.38 227.95,214.17 229.2,214.9C230.45,215.63 232,216.6 232.3,218C232.6,219.4 231.67,221.67 231,223.3C230.33,224.93 229.33,226.6 228.3,227.8C227.27,229 225.9,230.35 224.8,230.5C223.7,230.65 222.67,230.18 221.7,228.7C220.73,227.22 219.15,223.68 219,221.6C218.85,219.52 219.83,217.53 220.8,216.2C221.77,214.87 223.4,213.82 224.8,213.6Z" fill="#000" fill-opacity="0.1" stroke="#222" stroke-opacity="0.45" stroke-width="0.4"/>
<path d="M224.78,214.3C226.01,214.11 227.56,214.8 228.66,215.45C229.77,216.1 231.14,216.95 231.4,218.19C231.67,219.42 230.84,221.43 230.25,222.87C229.66,224.31 228.78,225.78 227.87,226.84C226.96,227.9 225.75,229.1 224.78,229.23C223.81,229.36 222.89,228.95 222.04,227.64C221.18,226.33 219.79,223.21 219.65,221.37C219.52,219.53 220.39,217.77 221.24,216.6C222.1,215.42 223.54,214.49 224.78,214.3Z" fill="#000" fill-opacity="0.1" stroke="#222" stroke-opacity="0.54" stroke-width="0.4"/>
<path d="M224.75,215C225.83,214.83 227.17,215.43 228.13,216C229.09,216.56 230.27,217.3 230.5,218.37C230.73,219.45 230.02,221.18 229.51,222.44C229,223.69 228.23,224.97 227.44,225.89C226.64,226.81 225.6,227.84 224.75,227.96C223.91,228.07 223.12,227.71 222.38,226.58C221.64,225.44 220.42,222.73 220.31,221.13C220.19,219.54 220.95,218.02 221.69,216.99C222.43,215.97 223.68,215.17 224.75,215Z" fill="#000" fill-opacity="0.1" stroke="#222" stroke-opacity="0.63" stroke-width="0.4"/>
<path d="M224.73,215.7C225.64,215.56 226.78,216.07 227.59,216.54C228.4,217.02 229.41,217.65 229.61,218.56C229.8,219.47 229.19,220.94 228.76,222C228.33,223.07 227.68,224.15 227,224.93C226.33,225.71 225.45,226.59 224.73,226.69C224.02,226.78 223.34,226.48 222.72,225.51C222.09,224.55 221.06,222.25 220.96,220.9C220.86,219.55 221.5,218.26 222.13,217.39C222.76,216.52 223.82,215.84 224.73,215.7Z" fill="#000" fill-opacity="0.1" stroke="#222" stroke-opacity="0.73" stroke-width="0.4"/>
<path d="M224.71,216.4C225.45,216.28 226.39,216.7 227.05,217.09C227.72,217.48 228.55,218 228.71,218.75C228.87,219.49 228.37,220.7 228.01,221.57C227.66,222.44 227.12,223.33 226.57,223.97C226.02,224.61 225.29,225.33 224.71,225.41C224.12,225.49 223.57,225.24 223.05,224.45C222.54,223.66 221.69,221.78 221.61,220.67C221.53,219.56 222.06,218.5 222.57,217.79C223.09,217.08 223.96,216.52 224.71,216.4Z" fill="#000" fill-opacity="0.1" stroke="#222" stroke-opacity="0.82" stroke-width="0.4"/>
<path d="M224.68,217.1C225.27,217.01 226,217.34 226.52,217.64C227.04,217.95 227.68,218.35 227.81,218.93C227.93,219.52 227.54,220.46 227.27,221.14C226.99,221.82 226.57,222.52 226.14,223.02C225.71,223.52 225.14,224.08 224.68,224.14C224.22,224.2 223.79,224.01 223.39,223.39C222.99,222.77 222.33,221.3 222.27,220.43C222.2,219.57 222.61,218.74 223.02,218.18C223.42,217.63 224.1,217.19 224.68,217.1Z" fill="#000" fill-opacity="0.1" stroke="#222" stroke-opacity="0.91" stroke-width="0.4"/>
<path d="M224.66,217.8C225.08,217.73 225.6,217.97 225.98,218.19C226.35,218.41 226.82,218.7 226.91,219.12C227,219.54 226.72,220.22 226.52,220.71C226.32,221.2 226.02,221.7 225.71,222.06C225.4,222.42 224.99,222.83 224.66,222.87C224.33,222.91 224.02,222.77 223.73,222.33C223.44,221.88 222.96,220.82 222.92,220.2C222.88,219.57 223.17,218.98 223.46,218.58C223.75,218.18 224.24,217.86 224.66,217.8Z" fill="#000" fill-opacity="0.1" stroke="#222" stroke-opacity="1.00" stroke-width="0.4"/>
<ellipse cx="224.00" cy="220.20" rx="5.00" ry="2.90" fill="#333" stroke="#000" stroke-width="2.0" opacity="1" transform="rotate(-60 224.00 220.20)"/>
<ellipse cx="223.00" cy="238.50" rx="2.10" ry="2.90" fill="none" stroke="#555" stroke-width="0.6" opacity="1"/>
<path d="M305.5,213.2C306.78,213.25 309.02,213.45 310,214.5C310.98,215.55 311.32,217.83 311.4,219.5C311.48,221.17 311.23,223.17 310.5,224.5C309.77,225.83 308.33,227.03 307,227.5C305.67,227.97 303.62,228.13 302.5,227.3C301.38,226.47 300.65,224.22 300.3,222.5C299.95,220.78 300.07,218.38 300.4,217C300.73,215.62 301.45,214.83 302.3,214.2C303.15,213.57 304.22,213.15 305.5,213.2Z" fill="#000" fill-opacity="0.12" stroke="#222" stroke-opacity="0.45" stroke-width="0.4"/>
<path d="M305.48,213.97C306.61,214.01 308.58,214.19 309.45,215.12C310.32,216.05 310.61,218.06 310.69,219.53C310.76,221.01 310.54,222.77 309.89,223.95C309.25,225.13 307.98,226.19 306.8,226.6C305.62,227.01 303.81,227.16 302.83,226.43C301.84,225.69 301.19,223.7 300.88,222.19C300.57,220.67 300.68,218.55 300.97,217.33C301.27,216.1 301.9,215.41 302.65,214.85C303.4,214.29 304.34,213.93 305.48,213.97Z" fill="#000" fill-opacity="0.12" stroke="#222" stroke-opacity="0.54" stroke-width="0.4"/>
<path d="M305.45,214.74C306.44,214.78 308.15,214.93 308.9,215.74C309.66,216.54 309.91,218.29 309.98,219.57C310.04,220.85 309.85,222.38 309.29,223.4C308.72,224.43 307.63,225.35 306.6,225.7C305.58,226.06 304.01,226.19 303.15,225.55C302.3,224.91 301.74,223.19 301.47,221.87C301.2,220.55 301.29,218.71 301.54,217.65C301.8,216.59 302.35,215.99 303,215.51C303.65,215.02 304.47,214.7 305.45,214.74Z" fill="#000" fill-opacity="0.12" stroke="#222" stroke-opacity="0.63" stroke-width="0.4"/>
<path d="M305.43,215.51C306.26,215.54 307.72,215.67 308.36,216.35C308.99,217.04 309.21,218.52 309.26,219.6C309.32,220.69 309.16,221.99 308.68,222.86C308.2,223.72 307.27,224.5 306.41,224.81C305.54,225.11 304.21,225.22 303.48,224.68C302.75,224.13 302.28,222.67 302.05,221.56C301.82,220.44 301.9,218.88 302.12,217.98C302.33,217.08 302.8,216.57 303.35,216.16C303.9,215.75 304.6,215.48 305.43,215.51Z" fill="#000" fill-opacity="0.12" stroke="#222" stroke-opacity="0.73" stroke-width="0.4"/>
<path d="M305.41,216.28C306.09,216.31 307.28,216.41 307.81,216.97C308.33,217.53 308.51,218.75 308.55,219.64C308.6,220.53 308.46,221.6 308.07,222.31C307.68,223.02 306.92,223.66 306.21,223.91C305.5,224.16 304.4,224.24 303.81,223.8C303.21,223.36 302.82,222.16 302.63,221.24C302.45,220.32 302.51,219.04 302.69,218.31C302.86,217.57 303.25,217.15 303.7,216.81C304.15,216.48 304.72,216.25 305.41,216.28Z" fill="#000" fill-opacity="0.12" stroke="#222" stroke-opacity="0.82" stroke-width="0.4"/>
<path d="M305.38,217.05C305.92,217.07 306.85,217.15 307.26,217.59C307.67,218.03 307.81,218.98 307.84,219.68C307.88,220.37 307.77,221.2 307.47,221.76C307.16,222.31 306.56,222.81 306.01,223.01C305.45,223.2 304.6,223.27 304.13,222.93C303.67,222.58 303.36,221.64 303.22,220.93C303.07,220.21 303.12,219.21 303.26,218.63C303.4,218.06 303.7,217.73 304.05,217.47C304.4,217.2 304.85,217.03 305.38,217.05Z" fill="#000" fill-opacity="0.12" stroke="#222" stroke-opacity="0.91" stroke-width="0.4"/>
<path d="M305.36,217.82C305.75,217.83 306.42,217.9 306.71,218.21C307.01,218.53 307.11,219.21 307.13,219.71C307.15,220.21 307.08,220.81 306.86,221.21C306.64,221.61 306.21,221.97 305.81,222.11C305.41,222.25 304.79,222.3 304.46,222.05C304.12,221.8 303.91,221.12 303.8,220.61C303.69,220.1 303.73,219.38 303.83,218.96C303.93,218.55 304.15,218.31 304.4,218.12C304.66,217.93 304.98,217.81 305.36,217.82Z" fill="#000" fill-opacity="0.12" stroke="#222" stroke-opacity="1.00" stroke-width="0.4"/>
<ellipse cx="305.30" cy="219.80" rx="3.60" ry="4.60" fill="#222" stroke="#000" stroke-width="1.8" opacity="1" transform="rotate(15 305.30 219.80)"/>
<path d="M304.5,228.5C305.53,228.58 307.03,229.25 307.7,230.5C308.37,231.75 308.53,234.17 308.5,236C308.47,237.83 308.2,240.3 307.5,241.5C306.8,242.7 305.38,243.28 304.3,243.2C303.22,243.12 301.67,242.37 301,241C300.33,239.63 300.22,236.83 300.3,235C300.38,233.17 300.8,231.08 301.5,230C302.2,228.92 303.47,228.42 304.5,228.5Z" fill="#000" fill-opacity="0.07" stroke="#222" stroke-opacity="0.45" stroke-width="0.45"/>
<path d="M304.47,229.72C305.33,229.79 306.59,230.35 307.15,231.39C307.71,232.44 307.85,234.46 307.82,236C307.79,237.54 307.57,239.6 306.98,240.61C306.39,241.61 305.21,242.1 304.3,242.03C303.39,241.96 302.09,241.33 301.54,240.19C300.98,239.04 300.88,236.7 300.95,235.16C301.02,233.63 301.37,231.88 301.95,230.97C302.54,230.07 303.6,229.65 304.47,229.72Z" fill="#000" fill-opacity="0.07" stroke="#222" stroke-opacity="0.59" stroke-width="0.45"/>
<path d="M304.44,230.94C305.13,230.99 306.14,231.44 306.59,232.29C307.04,233.13 307.16,234.76 307.13,236C307.11,237.24 306.93,238.9 306.46,239.71C305.99,240.52 305.03,240.92 304.3,240.86C303.57,240.8 302.52,240.3 302.07,239.38C301.62,238.45 301.54,236.56 301.6,235.32C301.66,234.09 301.94,232.68 302.41,231.95C302.88,231.22 303.74,230.88 304.44,230.94Z" fill="#000" fill-opacity="0.07" stroke="#222" stroke-opacity="0.73" stroke-width="0.45"/>
<path d="M304.4,232.16C304.93,232.2 305.7,232.54 306.04,233.18C306.38,233.82 306.47,235.06 306.45,236C306.44,236.94 306.3,238.2 305.94,238.82C305.58,239.43 304.86,239.73 304.3,239.69C303.74,239.65 302.95,239.26 302.61,238.56C302.27,237.86 302.21,236.43 302.25,235.49C302.29,234.55 302.51,233.48 302.87,232.93C303.22,232.37 303.87,232.11 304.4,232.16Z" fill="#000" fill-opacity="0.07" stroke="#222" stroke-opacity="0.86" stroke-width="0.45"/>
<path d="M304.37,233.38C304.73,233.4 305.26,233.64 305.49,234.07C305.72,234.51 305.78,235.36 305.77,236C305.76,236.64 305.67,237.51 305.42,237.93C305.18,238.34 304.68,238.55 304.3,238.52C303.92,238.49 303.38,238.23 303.14,237.75C302.91,237.27 302.87,236.29 302.9,235.65C302.93,235.01 303.07,234.28 303.32,233.9C303.56,233.52 304.01,233.35 304.37,233.38Z" fill="#000" fill-opacity="0.07" stroke="#222" stroke-opacity="1.00" stroke-width="0.45"/>
<ellipse cx="318.20" cy="218.00" rx="0.70" ry="0.70" fill="#555" stroke="none" stroke-width="0" opacity="1"/>
<ellipse cx="325.20" cy="226.00" rx="0.60" ry="0.60" fill="#666" stroke="none" stroke-width="0" opacity="1"/>
<path d="M386,214C387.5,213.78 389.18,214.45 390.5,215.2C391.82,215.95 393.57,217.28 393.9,218.5C394.23,219.72 392.98,221.08 392.5,222.5C392.02,223.92 391.92,225.75 391,227C390.08,228.25 388.42,229.75 387,230C385.58,230.25 383.57,229.83 382.5,228.5C381.43,227.17 380.77,224 380.6,222C380.43,220 380.6,217.83 381.5,216.5C382.4,215.17 384.5,214.22 386,214Z" fill="#000" fill-opacity="0.09" stroke="#222" stroke-opacity="0.45" stroke-width="0.4"/>
<path d="M386,214.78C387.32,214.59 388.81,215.18 389.98,215.84C391.14,216.5 392.68,217.68 392.98,218.76C393.27,219.83 392.17,221.04 391.74,222.29C391.31,223.54 391.23,225.16 390.42,226.26C389.61,227.37 388.13,228.69 386.88,228.91C385.63,229.14 383.85,228.77 382.91,227.59C381.97,226.41 381.38,223.62 381.23,221.85C381.08,220.08 381.23,218.17 382.02,216.99C382.82,215.81 384.68,214.97 386,214.78Z" fill="#000" fill-opacity="0.09" stroke="#222" stroke-opacity="0.54" stroke-width="0.4"/>
<path d="M386,215.56C387.15,215.4 388.44,215.91 389.45,216.48C390.46,217.06 391.8,218.08 392.06,219.01C392.31,219.95 391.35,220.99 390.98,222.08C390.61,223.17 390.54,224.57 389.83,225.53C389.13,226.49 387.85,227.64 386.77,227.83C385.68,228.02 384.13,227.7 383.32,226.68C382.5,225.66 381.99,223.23 381.86,221.7C381.73,220.16 381.86,218.5 382.55,217.48C383.24,216.46 384.85,215.73 386,215.56Z" fill="#000" fill-opacity="0.09" stroke="#222" stroke-opacity="0.63" stroke-width="0.4"/>
<path d="M386,216.34C386.98,216.2 388.07,216.64 388.93,217.12C389.78,217.61 390.92,218.48 391.13,219.27C391.35,220.06 390.54,220.95 390.23,221.87C389.91,222.79 389.85,223.98 389.25,224.79C388.65,225.61 387.57,226.58 386.65,226.75C385.73,226.91 384.42,226.64 383.73,225.77C383.03,224.9 382.6,222.84 382.49,221.54C382.38,220.24 382.49,218.84 383.07,217.97C383.66,217.1 385.02,216.49 386,216.34Z" fill="#000" fill-opacity="0.09" stroke="#222" stroke-opacity="0.73" stroke-width="0.4"/>
<path d="M386,217.13C386.8,217.01 387.7,217.37 388.4,217.77C389.1,218.17 390.04,218.88 390.21,219.53C390.39,220.18 389.72,220.9 389.47,221.66C389.21,222.42 389.16,223.39 388.67,224.06C388.18,224.73 387.29,225.53 386.53,225.66C385.78,225.79 384.7,225.57 384.13,224.86C383.56,224.15 383.21,222.46 383.12,221.39C383.03,220.33 383.12,219.17 383.6,218.46C384.08,217.75 385.2,217.24 386,217.13Z" fill="#000" fill-opacity="0.09" stroke="#222" stroke-opacity="0.82" stroke-width="0.4"/>
<path d="M386,217.91C386.62,217.82 387.33,218.1 387.88,218.41C388.42,218.72 389.15,219.28 389.29,219.78C389.43,220.29 388.91,220.86 388.71,221.45C388.51,222.04 388.47,222.8 388.08,223.32C387.7,223.85 387.01,224.47 386.42,224.57C385.83,224.68 384.99,224.51 384.54,223.95C384.1,223.39 383.82,222.08 383.75,221.24C383.68,220.41 383.75,219.51 384.12,218.95C384.5,218.39 385.38,218 386,217.91Z" fill="#000" fill-opacity="0.09" stroke="#222" stroke-opacity="0.91" stroke-width="0.4"/>
<path d="M386,218.69C386.45,218.62 386.96,218.82 387.35,219.05C387.75,219.27 388.27,219.67 388.37,220.04C388.47,220.41 388.09,220.81 387.95,221.24C387.81,221.66 387.77,222.22 387.5,222.59C387.23,222.97 386.73,223.41 386.3,223.49C385.88,223.56 385.27,223.44 384.95,223.04C384.63,222.64 384.43,221.69 384.38,221.09C384.33,220.49 384.38,219.84 384.65,219.44C384.92,219.04 385.55,218.75 386,218.69Z" fill="#000" fill-opacity="0.09" stroke="#222" stroke-opacity="1.00" stroke-width="0.4"/>
<ellipse cx="385.90" cy="220.70" rx="2.90" ry="3.30" fill="#777" stroke="#000" stroke-width="1.9" opacity="1"/>
<ellipse cx="385.90" cy="235.80" rx="0.90" ry="0.90" fill="#888" stroke="none" stroke-width="0" opacity="1"/>
<path d="M466.5,214C468,213.78 469.7,214.45 471,215.2C472.3,215.95 473.97,217.28 474.3,218.5C474.63,219.72 473.47,221.08 473,222.5C472.53,223.92 472.42,225.75 471.5,227C470.58,228.25 468.92,229.75 467.5,230C466.08,230.25 464.08,229.83 463,228.5C461.92,227.17 461.17,224 461,222C460.83,220 461.08,217.83 462,216.5C462.92,215.17 465,214.22 466.5,214Z" fill="#000" fill-opacity="0.09" stroke="#222" stroke-opacity="0.45" stroke-width="0.4"/>
<path d="M466.54,214.78C467.86,214.59 469.36,215.18 470.51,215.84C471.66,216.5 473.13,217.68 473.43,218.76C473.72,219.83 472.69,221.04 472.28,222.29C471.86,223.54 471.76,225.16 470.95,226.26C470.14,227.37 468.67,228.69 467.42,228.91C466.17,229.14 464.4,228.77 463.44,227.59C462.49,226.41 461.82,223.62 461.68,221.85C461.53,220.08 461.75,218.17 462.56,216.99C463.37,215.81 465.21,214.97 466.54,214.78Z" fill="#000" fill-opacity="0.09" stroke="#222" stroke-opacity="0.54" stroke-width="0.4"/>
<path d="M466.57,215.56C467.72,215.4 469.02,215.91 470.02,216.48C471.02,217.06 472.29,218.08 472.55,219.01C472.81,219.95 471.91,220.99 471.55,222.08C471.2,223.17 471.11,224.57 470.4,225.53C469.7,226.49 468.42,227.64 467.34,227.83C466.25,228.02 464.72,227.7 463.89,226.68C463.06,225.66 462.48,223.23 462.35,221.7C462.23,220.16 462.42,218.5 463.12,217.48C463.82,216.46 465.42,215.73 466.57,215.56Z" fill="#000" fill-opacity="0.09" stroke="#222" stroke-opacity="0.63" stroke-width="0.4"/>
<path d="M466.61,216.34C467.58,216.2 468.69,216.64 469.53,217.12C470.38,217.61 471.46,218.48 471.68,219.27C471.89,220.06 471.13,220.95 470.83,221.87C470.53,222.79 470.45,223.98 469.86,224.79C469.26,225.61 468.18,226.58 467.25,226.75C466.33,226.91 465.03,226.64 464.33,225.77C463.63,224.9 463.14,222.84 463.03,221.54C462.92,220.24 463.08,218.84 463.68,217.97C464.28,217.1 465.63,216.49 466.61,216.34Z" fill="#000" fill-opacity="0.09" stroke="#222" stroke-opacity="0.73" stroke-width="0.4"/>
<path d="M466.64,217.13C467.44,217.01 468.35,217.37 469.04,217.77C469.73,218.17 470.62,218.88 470.8,219.53C470.98,220.18 470.36,220.9 470.11,221.66C469.86,222.42 469.8,223.39 469.31,224.06C468.82,224.73 467.93,225.53 467.17,225.66C466.42,225.79 465.35,225.57 464.77,224.86C464.2,224.15 463.8,222.46 463.71,221.39C463.62,220.33 463.75,219.17 464.24,218.46C464.73,217.75 465.84,217.24 466.64,217.13Z" fill="#000" fill-opacity="0.09" stroke="#222" stroke-opacity="0.82" stroke-width="0.4"/>
<path d="M466.68,217.91C467.3,217.82 468.01,218.1 468.55,218.41C469.09,218.72 469.79,219.28 469.93,219.78C470.06,220.29 469.58,220.86 469.38,221.45C469.19,222.04 469.14,222.8 468.76,223.32C468.38,223.85 467.68,224.47 467.09,224.57C466.5,224.68 465.67,224.51 465.22,223.95C464.77,223.39 464.45,222.08 464.38,221.24C464.31,220.41 464.42,219.51 464.8,218.95C465.18,218.39 466.05,218 466.68,217.91Z" fill="#000" fill-opacity="0.09" stroke="#222" stroke-opacity="0.91" stroke-width="0.4"/>
<path d="M466.71,218.69C467.16,218.62 467.67,218.82 468.06,219.05C468.45,219.27 468.95,219.67 469.05,220.04C469.15,220.41 468.8,220.81 468.66,221.24C468.52,221.66 468.49,222.22 468.21,222.59C467.94,222.97 467.44,223.41 467.01,223.49C466.58,223.56 465.99,223.44 465.66,223.04C465.34,222.64 465.11,221.69 465.06,221.09C465.01,220.49 465.09,219.84 465.36,219.44C465.63,219.04 466.26,218.75 466.71,218.69Z" fill="#000" fill-opacity="0.09" stroke="#222" stroke-opacity="1.00" stroke-width="0.4"/>
<ellipse cx="466.80" cy="220.70" rx="2.90" ry="3.30" fill="#777" stroke="#000" stroke-width="1.9" opacity="1"/>
<ellipse cx="466.30" cy="235.80" rx="0.90" ry="0.90" fill="#888" stroke="none" stroke-width="0" opacity="1"/>
<path d="M63.4,298.6C64.67,298.35 66.5,298.03 67.2,299.3C67.9,300.57 67.73,303.92 67.6,306.2C67.47,308.48 67.23,310.85 66.4,313C65.57,315.15 63.73,318.85 62.6,319.1C61.47,319.35 60.37,316.4 59.6,314.5C58.83,312.6 58,309.98 58,307.7C58,305.42 58.7,302.32 59.6,300.8C60.5,299.28 62.13,298.85 63.4,298.6Z" fill="#000" fill-opacity="0.1" stroke="#222" stroke-opacity="0.45" stroke-width="0.4"/>
<path d="M63.3,299.51C64.42,299.29 66.03,299.01 66.65,300.13C67.26,301.24 67.12,304.19 67,306.2C66.88,308.21 66.68,310.29 65.94,312.18C65.21,314.08 63.6,317.33 62.6,317.55C61.6,317.77 60.63,315.18 59.96,313.5C59.29,311.83 58.55,309.53 58.55,307.52C58.55,305.51 59.17,302.78 59.96,301.45C60.75,300.11 62.19,299.73 63.3,299.51Z" fill="#000" fill-opacity="0.1" stroke="#222" stroke-opacity="0.54" stroke-width="0.4"/>
<path d="M63.21,300.42C64.17,300.23 65.56,299.99 66.1,300.96C66.63,301.92 66.5,304.46 66.4,306.2C66.3,307.94 66.12,309.73 65.49,311.37C64.85,313 63.46,315.81 62.6,316C61.74,316.19 60.9,313.95 60.32,312.51C59.74,311.06 59.1,309.08 59.1,307.34C59.1,305.6 59.64,303.25 60.32,302.1C61,300.94 62.25,300.61 63.21,300.42Z" fill="#000" fill-opacity="0.1" stroke="#222" stroke-opacity="0.63" stroke-width="0.4"/>
<path d="M63.11,301.34C63.92,301.18 65.1,300.97 65.54,301.78C65.99,302.59 65.89,304.74 65.8,306.2C65.71,307.66 65.57,309.18 65.03,310.55C64.5,311.93 63.33,314.3 62.6,314.46C61.87,314.62 61.17,312.73 60.68,311.51C60.19,310.3 59.66,308.62 59.66,307.16C59.66,305.7 60.1,303.71 60.68,302.74C61.26,301.77 62.3,301.5 63.11,301.34Z" fill="#000" fill-opacity="0.1" stroke="#222" stroke-opacity="0.73" stroke-width="0.4"/>
<path d="M63.02,302.25C63.67,302.12 64.63,301.95 64.99,302.61C65.36,303.27 65.27,305.01 65.2,306.2C65.13,307.39 65.01,308.62 64.58,309.74C64.14,310.85 63.19,312.78 62.6,312.91C62.01,313.04 61.44,311.5 61.04,310.52C60.64,309.53 60.21,308.17 60.21,306.98C60.21,305.79 60.57,304.18 61.04,303.39C61.51,302.6 62.36,302.38 63.02,302.25Z" fill="#000" fill-opacity="0.1" stroke="#222" stroke-opacity="0.82" stroke-width="0.4"/>
<path d="M62.92,303.16C63.43,303.06 64.16,302.93 64.44,303.44C64.72,303.95 64.65,305.29 64.6,306.2C64.55,307.11 64.45,308.06 64.12,308.92C63.79,309.78 63.05,311.26 62.6,311.36C62.15,311.46 61.71,310.28 61.4,309.52C61.09,308.76 60.76,307.71 60.76,306.8C60.76,305.89 61.04,304.65 61.4,304.04C61.76,303.43 62.41,303.26 62.92,303.16Z" fill="#000" fill-opacity="0.1" stroke="#222" stroke-opacity="0.91" stroke-width="0.4"/>
<path d="M62.82,304.07C63.18,304 63.69,303.91 63.89,304.27C64.08,304.62 64.04,305.56 64,306.2C63.96,306.84 63.9,307.5 63.66,308.1C63.43,308.71 62.92,309.74 62.6,309.81C62.28,309.88 61.97,309.06 61.76,308.52C61.55,307.99 61.31,307.26 61.31,306.62C61.31,305.98 61.51,305.11 61.76,304.69C62.01,304.26 62.47,304.14 62.82,304.07Z" fill="#000" fill-opacity="0.1" stroke="#222" stroke-opacity="1.00" stroke-width="0.4"/>
<ellipse cx="62.60" cy="306.60" rx="2.20" ry="2.70" fill="#555" stroke="#000" stroke-width="1.6" opacity="1"/>
<path d="M67.6,300.5C68.42,298.97 70.8,300.77 72.5,301.2C74.2,301.63 76.28,302.52 77.8,303.1C79.32,303.68 80.58,304.07 81.6,304.7C82.62,305.33 83.77,306.15 83.9,306.9C84.03,307.65 83.42,308.68 82.4,309.2C81.38,309.72 79.07,309.62 77.8,310C76.53,310.38 76.07,311.32 74.8,311.5C73.53,311.68 71.4,311.28 70.2,311.1C69,310.92 68.03,312.17 67.6,310.4C67.17,308.63 66.78,302.03 67.6,300.5Z" fill="none" stroke="#333" stroke-width="0.45"/>
<path d="M67.9,303.9C68.67,303.13 71.35,303.45 72.5,303.9C73.65,304.35 74.8,305.83 74.8,306.6C74.8,307.37 73.65,308.18 72.5,308.5C71.35,308.82 68.67,309.27 67.9,308.5C67.13,307.73 67.13,304.67 67.9,303.9Z" fill="none" stroke="#444" stroke-width="0.45"/>
<path d="M141,302C141.75,300.53 143.17,300.37 145,300.2C146.83,300.03 149.5,300.73 152,301C154.5,301.27 157.5,301.3 160,301.8C162.5,302.3 165.07,302.73 167,304C168.93,305.27 171.43,307.82 171.6,309.4C171.77,310.98 169.93,312.48 168,313.5C166.07,314.52 163,315.1 160,315.5C157,315.9 152.83,316.07 150,315.9C147.17,315.73 144.58,315.65 143,314.5C141.42,313.35 140.83,311.08 140.5,309C140.17,306.92 140.25,303.47 141,302Z" fill="#000" fill-opacity="0.12" stroke="#222" stroke-opacity="0.45" stroke-width="0.4"/>
<path d="M142.65,302.69C143.32,301.39 144.58,301.24 146.21,301.09C147.84,300.94 150.22,301.57 152.44,301.8C154.66,302.04 157.34,302.07 159.56,302.51C161.78,302.96 164.07,303.35 165.79,304.47C167.51,305.6 169.74,307.87 169.88,309.28C170.03,310.69 168.4,312.02 166.68,312.93C164.96,313.83 162.23,314.35 159.56,314.71C156.89,315.06 153.18,315.21 150.66,315.06C148.14,314.92 145.84,314.84 144.43,313.82C143.02,312.79 142.5,310.78 142.21,308.92C141.91,307.07 141.98,304 142.65,302.69Z" fill="#000" fill-opacity="0.12" stroke="#222" stroke-opacity="0.56" stroke-width="0.4"/>
<path d="M144.3,303.39C144.89,302.24 145.99,302.11 147.42,301.98C148.85,301.85 150.93,302.4 152.88,302.61C154.83,302.81 157.17,302.84 159.12,303.23C161.07,303.62 163.07,303.96 164.58,304.95C166.09,305.93 168.04,307.92 168.17,309.16C168.3,310.39 166.87,311.56 165.36,312.36C163.85,313.15 161.46,313.6 159.12,313.92C156.78,314.23 153.53,314.36 151.32,314.23C149.11,314.1 147.1,314.03 145.86,313.14C144.62,312.24 144.17,310.47 143.91,308.85C143.65,307.22 143.72,304.53 144.3,303.39Z" fill="#000" fill-opacity="0.12" stroke="#222" stroke-opacity="0.67" stroke-width="0.4"/>
<path d="M145.95,304.08C146.45,303.1 147.4,302.98 148.63,302.87C149.86,302.76 151.64,303.23 153.32,303.41C155,303.59 157,303.61 158.68,303.94C160.36,304.28 162.07,304.57 163.37,305.42C164.67,306.27 166.34,307.98 166.45,309.04C166.56,310.1 165.34,311.1 164.04,311.78C162.74,312.47 160.69,312.86 158.68,313.12C156.67,313.39 153.88,313.5 151.98,313.39C150.08,313.28 148.35,313.22 147.29,312.45C146.23,311.68 145.84,310.16 145.62,308.77C145.39,307.37 145.45,305.06 145.95,304.08Z" fill="#000" fill-opacity="0.12" stroke="#222" stroke-opacity="0.78" stroke-width="0.4"/>
<path d="M147.6,304.77C148.02,303.95 148.81,303.86 149.84,303.76C150.87,303.67 152.36,304.06 153.76,304.21C155.16,304.36 156.84,304.38 158.24,304.66C159.64,304.94 161.08,305.18 162.16,305.89C163.24,306.6 164.64,308.03 164.74,308.92C164.83,309.8 163.8,310.64 162.72,311.21C161.64,311.78 159.92,312.11 158.24,312.33C156.56,312.56 154.23,312.65 152.64,312.56C151.05,312.46 149.61,312.42 148.72,311.77C147.83,311.13 147.51,309.86 147.32,308.69C147.13,307.53 147.18,305.59 147.6,304.77Z" fill="#000" fill-opacity="0.12" stroke="#222" stroke-opacity="0.89" stroke-width="0.4"/>
<path d="M149.25,305.47C149.59,304.81 150.23,304.73 151.05,304.66C151.88,304.58 153.07,304.89 154.2,305.01C155.32,305.13 156.68,305.15 157.8,305.38C158.93,305.6 160.08,305.8 160.95,306.37C161.82,306.94 162.94,308.08 163.02,308.8C163.1,309.51 162.27,310.18 161.4,310.64C160.53,311.1 159.15,311.36 157.8,311.54C156.45,311.72 154.58,311.79 153.3,311.72C152.03,311.64 150.86,311.61 150.15,311.09C149.44,310.57 149.18,309.55 149.03,308.62C148.88,307.68 148.91,306.12 149.25,305.47Z" fill="#000" fill-opacity="0.12" stroke="#222" stroke-opacity="1.00" stroke-width="0.4"/>
<path d="M148.5,305.4C148.92,304.3 149.42,304.93 151,304.8C152.58,304.67 156.03,304.5 158,304.6C159.97,304.7 161.63,304.73 162.8,305.4C163.97,306.07 165,307.57 165,308.6C165,309.63 163.97,310.97 162.8,311.6C161.63,312.23 159.97,312.3 158,312.4C156.03,312.5 152.58,312.37 151,312.2C149.42,312.03 148.92,312.53 148.5,311.4C148.08,310.27 148.08,306.5 148.5,305.4Z" fill="#666" stroke="#111" stroke-width="1.7"/>
<rect x="146.5" y="306.5" width="2.5" height="3.8" fill="#777"/>
<ellipse cx="158.50" cy="308.60" rx="5.20" ry="0.90" fill="#e4e4e4" stroke="none" stroke-width="0" opacity="1"/>
<ellipse cx="144.60" cy="306.70" rx="2.40" ry="4.80" fill="#bbb" stroke="#000" stroke-width="1.8" opacity="1"/>
<path d="M221,300C221.92,298.92 223.67,299.42 226,299.5C228.33,299.58 232,300.08 235,300.5C238,300.92 241.62,300.92 244,302C246.38,303.08 248.8,305.25 249.3,307C249.8,308.75 248.88,311.2 247,312.5C245.12,313.8 241.17,314.47 238,314.8C234.83,315.13 230.67,314.8 228,314.5C225.33,314.2 223.25,314.42 222,313C220.75,311.58 220.67,308.17 220.5,306C220.33,303.83 220.08,301.08 221,300Z" fill="#000" fill-opacity="0.1" stroke="#222" stroke-opacity="0.45" stroke-width="0.4"/>
<path d="M222.44,300.84C223.25,299.89 224.79,300.33 226.84,300.4C228.89,300.47 232.12,300.91 234.76,301.28C237.4,301.65 240.58,301.65 242.68,302.6C244.78,303.55 246.9,305.46 247.34,307C247.78,308.54 246.98,310.7 245.32,311.84C243.66,312.98 240.19,313.57 237.4,313.86C234.61,314.16 230.95,313.86 228.6,313.6C226.25,313.34 224.42,313.53 223.32,312.28C222.22,311.03 222.15,308.03 222,306.12C221.85,304.21 221.63,301.79 222.44,300.84Z" fill="#000" fill-opacity="0.1" stroke="#222" stroke-opacity="0.56" stroke-width="0.4"/>
<path d="M223.88,301.68C224.58,300.86 225.91,301.24 227.68,301.3C229.45,301.36 232.24,301.74 234.52,302.06C236.8,302.38 239.55,302.38 241.36,303.2C243.17,304.02 245.01,305.67 245.39,307C245.77,308.33 245.07,310.19 243.64,311.18C242.21,312.17 239.21,312.67 236.8,312.93C234.39,313.18 231.23,312.93 229.2,312.7C227.17,312.47 225.59,312.64 224.64,311.56C223.69,310.48 223.63,307.89 223.5,306.24C223.37,304.59 223.18,302.5 223.88,301.68Z" fill="#000" fill-opacity="0.1" stroke="#222" stroke-opacity="0.67" stroke-width="0.4"/>
<path d="M225.32,302.52C225.91,301.83 227.03,302.15 228.52,302.2C230.01,302.25 232.36,302.57 234.28,302.84C236.2,303.11 238.51,303.11 240.04,303.8C241.57,304.49 243.11,305.88 243.43,307C243.75,308.12 243.17,309.69 241.96,310.52C240.75,311.35 238.23,311.78 236.2,311.99C234.17,312.21 231.51,311.99 229.8,311.8C228.09,311.61 226.76,311.75 225.96,310.84C225.16,309.93 225.11,307.75 225,306.36C224.89,304.97 224.73,303.21 225.32,302.52Z" fill="#000" fill-opacity="0.1" stroke="#222" stroke-opacity="0.78" stroke-width="0.4"/>
<path d="M226.76,303.36C227.24,302.8 228.15,303.06 229.36,303.1C230.57,303.14 232.48,303.4 234.04,303.62C235.6,303.84 237.48,303.84 238.72,304.4C239.96,304.96 241.22,306.09 241.48,307C241.74,307.91 241.26,309.18 240.28,309.86C239.3,310.54 237.25,310.88 235.6,311.06C233.95,311.23 231.79,311.06 230.4,310.9C229.01,310.74 227.93,310.86 227.28,310.12C226.63,309.38 226.59,307.61 226.5,306.48C226.41,305.35 226.28,303.92 226.76,303.36Z" fill="#000" fill-opacity="0.1" stroke="#222" stroke-opacity="0.89" stroke-width="0.4"/>
<path d="M228.2,304.2C228.57,303.77 229.27,303.97 230.2,304C231.13,304.03 232.6,304.23 233.8,304.4C235,304.57 236.45,304.57 237.4,305C238.35,305.43 239.32,306.3 239.52,307C239.72,307.7 239.35,308.68 238.6,309.2C237.85,309.72 236.27,309.99 235,310.12C233.73,310.25 232.07,310.12 231,310C229.93,309.88 229.1,309.97 228.6,309.4C228.1,308.83 228.07,307.47 228,306.6C227.93,305.73 227.83,304.63 228.2,304.2Z" fill="#000" fill-opacity="0.1" stroke="#222" stroke-opacity="1.00" stroke-width="0.4"/>
<ellipse cx="237.00" cy="307.00" rx="10.50" ry="4.30" fill="#aaa" stroke="#444" stroke-width="0.6" opacity="0.85"/>
<path d="M227,303.6C227.83,302.5 230.17,303.2 232,303.2C233.83,303.2 236.25,303.27 238,303.6C239.75,303.93 241.5,304.6 242.5,305.2C243.5,305.8 244.08,306.48 244,307.2C243.92,307.92 243.33,308.93 242,309.5C240.67,310.07 238,310.45 236,310.6C234,310.75 231.5,310.53 230,310.4C228.5,310.27 227.5,310.93 227,309.8C226.5,308.67 226.17,304.7 227,303.6Z" fill="#666" stroke="#1a1a1a" stroke-width="1.1"/>
<ellipse cx="235.00" cy="307.00" rx="5.00" ry="0.80" fill="#ccc" stroke="none" stroke-width="0" opacity="1"/>
<ellipse cx="224.50" cy="305.80" rx="2.60" ry="5.20" fill="#ddd" stroke="#000" stroke-width="1.9" opacity="1"/>
<path d="M302,300.5C303.13,299.3 305.33,299.63 308,299.8C310.67,299.97 315,300.72 318,301.5C321,302.28 324.25,303.33 326,304.5C327.75,305.67 328.67,307.08 328.5,308.5C328.33,309.92 327.08,311.83 325,313C322.92,314.17 319,314.7 316,315.5C313,316.3 309.33,317.88 307,317.8C304.67,317.72 302.97,316.8 302,315C301.03,313.2 301.2,309.42 301.2,307C301.2,304.58 300.87,301.7 302,300.5Z" fill="#000" fill-opacity="0.12" stroke="#222" stroke-opacity="0.45" stroke-width="0.4"/>
<path d="M302.96,301.46C303.96,300.4 305.89,300.7 308.24,300.84C310.59,300.99 314.4,301.65 317.04,302.34C319.68,303.03 322.54,303.95 324.08,304.98C325.62,306.01 326.43,307.25 326.28,308.5C326.13,309.75 325.03,311.43 323.2,312.46C321.37,313.49 317.92,313.96 315.28,314.66C312.64,315.36 309.41,316.76 307.36,316.68C305.31,316.61 303.81,315.8 302.96,314.22C302.11,312.64 302.26,309.31 302.26,307.18C302.26,305.05 301.96,302.52 302.96,301.46Z" fill="#000" fill-opacity="0.12" stroke="#222" stroke-opacity="0.56" stroke-width="0.4"/>
<path d="M303.92,302.42C304.78,301.51 306.45,301.76 308.48,301.89C310.51,302.01 313.8,302.58 316.08,303.18C318.36,303.78 320.83,304.57 322.16,305.46C323.49,306.35 324.19,307.42 324.06,308.5C323.93,309.58 322.98,311.03 321.4,311.92C319.82,312.81 316.84,313.21 314.56,313.82C312.28,314.43 309.49,315.63 307.72,315.57C305.95,315.5 304.65,314.81 303.92,313.44C303.19,312.07 303.31,309.2 303.31,307.36C303.31,305.52 303.06,303.33 303.92,302.42Z" fill="#000" fill-opacity="0.12" stroke="#222" stroke-opacity="0.67" stroke-width="0.4"/>
<path d="M304.88,303.38C305.61,302.61 307.01,302.83 308.72,302.93C310.43,303.04 313.2,303.52 315.12,304.02C317.04,304.52 319.12,305.19 320.24,305.94C321.36,306.69 321.95,307.59 321.84,308.5C321.73,309.41 320.93,310.63 319.6,311.38C318.27,312.13 315.76,312.47 313.84,312.98C311.92,313.49 309.57,314.51 308.08,314.45C306.59,314.4 305.5,313.81 304.88,312.66C304.26,311.51 304.37,309.09 304.37,307.54C304.37,305.99 304.15,304.15 304.88,303.38Z" fill="#000" fill-opacity="0.12" stroke="#222" stroke-opacity="0.78" stroke-width="0.4"/>
<path d="M305.84,304.34C306.43,303.72 307.57,303.89 308.96,303.98C310.35,304.06 312.6,304.45 314.16,304.86C315.72,305.27 317.41,305.81 318.32,306.42C319.23,307.03 319.71,307.76 319.62,308.5C319.53,309.24 318.88,310.23 317.8,310.84C316.72,311.45 314.68,311.72 313.12,312.14C311.56,312.56 309.65,313.38 308.44,313.34C307.23,313.29 306.34,312.82 305.84,311.88C305.34,310.94 305.42,308.98 305.42,307.72C305.42,306.46 305.25,304.96 305.84,304.34Z" fill="#000" fill-opacity="0.12" stroke="#222" stroke-opacity="0.89" stroke-width="0.4"/>
<path d="M306.8,305.3C307.25,304.82 308.13,304.95 309.2,305.02C310.27,305.09 312,305.39 313.2,305.7C314.4,306.01 315.7,306.43 316.4,306.9C317.1,307.37 317.47,307.93 317.4,308.5C317.33,309.07 316.83,309.83 316,310.3C315.17,310.77 313.6,310.98 312.4,311.3C311.2,311.62 309.73,312.25 308.8,312.22C307.87,312.19 307.19,311.82 306.8,311.1C306.41,310.38 306.48,308.87 306.48,307.9C306.48,306.93 306.35,305.78 306.8,305.3Z" fill="#000" fill-opacity="0.12" stroke="#222" stroke-opacity="1.00" stroke-width="0.4"/>
<ellipse cx="310.30" cy="308.80" rx="7.50" ry="3.60" fill="#555" stroke="#000" stroke-width="2.0" opacity="1"/>
<ellipse cx="310.50" cy="308.80" rx="5.50" ry="0.90" fill="#eee" stroke="none" stroke-width="0" opacity="1"/>
<ellipse cx="304.60" cy="308.80" rx="1.60" ry="3.20" fill="none" stroke="#000" stroke-width="1.6" opacity="1"/>
<path d="M382.5,302C383.2,300.73 384.42,299.48 386,299.4C387.58,299.32 389.33,300.98 392,301.5C394.67,302.02 399,301.92 402,302.5C405,303.08 408.17,303.92 410,305C411.83,306.08 413,307.58 413,309C413,310.42 412.17,312.33 410,313.5C407.83,314.67 403.67,315.53 400,316C396.33,316.47 391,316.8 388,316.3C385,315.8 383.03,314.55 382,313C380.97,311.45 381.72,308.83 381.8,307C381.88,305.17 381.8,303.27 382.5,302Z" fill="#000" fill-opacity="0.12" stroke="#222" stroke-opacity="0.45" stroke-width="0.4"/>
<path d="M384,302.79C384.62,301.68 385.69,300.58 387.08,300.5C388.47,300.43 390.01,301.9 392.36,302.35C394.71,302.81 398.52,302.72 401.16,303.23C403.8,303.75 406.59,304.48 408.2,305.43C409.81,306.39 410.84,307.71 410.84,308.95C410.84,310.2 410.11,311.89 408.2,312.91C406.29,313.94 402.63,314.7 399.4,315.11C396.17,315.52 391.48,315.82 388.84,315.38C386.2,314.94 384.47,313.84 383.56,312.47C382.65,311.11 383.31,308.81 383.38,307.19C383.46,305.58 383.38,303.91 384,302.79Z" fill="#000" fill-opacity="0.12" stroke="#222" stroke-opacity="0.56" stroke-width="0.4"/>
<path d="M385.5,303.58C386.03,302.62 386.96,301.67 388.16,301.61C389.36,301.54 390.69,302.81 392.72,303.2C394.75,303.6 398.04,303.52 400.32,303.96C402.6,304.41 405.01,305.04 406.4,305.86C407.79,306.69 408.68,307.83 408.68,308.9C408.68,309.98 408.05,311.44 406.4,312.32C404.75,313.21 401.59,313.87 398.8,314.22C396.01,314.58 391.96,314.83 389.68,314.45C387.4,314.07 385.91,313.12 385.12,311.94C384.33,310.77 384.9,308.78 384.97,307.38C385.03,305.99 384.97,304.55 385.5,303.58Z" fill="#000" fill-opacity="0.12" stroke="#222" stroke-opacity="0.67" stroke-width="0.4"/>
<path d="M387,304.38C387.45,303.57 388.23,302.77 389.24,302.71C390.25,302.66 391.37,303.73 393.08,304.06C394.79,304.39 397.56,304.32 399.48,304.7C401.4,305.07 403.43,305.6 404.6,306.3C405.77,306.99 406.52,307.95 406.52,308.86C406.52,309.76 405.99,310.99 404.6,311.74C403.21,312.48 400.55,313.04 398.2,313.34C395.85,313.63 392.44,313.85 390.52,313.53C388.6,313.21 387.34,312.41 386.68,311.42C386.02,310.42 386.5,308.75 386.55,307.58C386.61,306.4 386.55,305.19 387,304.38Z" fill="#000" fill-opacity="0.12" stroke="#222" stroke-opacity="0.78" stroke-width="0.4"/>
<path d="M388.5,305.17C388.86,304.51 389.5,303.86 390.32,303.82C391.14,303.77 392.05,304.64 393.44,304.91C394.83,305.18 397.08,305.12 398.64,305.43C400.2,305.73 401.85,306.16 402.8,306.73C403.75,307.29 404.36,308.07 404.36,308.81C404.36,309.54 403.93,310.54 402.8,311.15C401.67,311.75 399.51,312.21 397.6,312.45C395.69,312.69 392.92,312.86 391.36,312.6C389.8,312.34 388.78,311.69 388.24,310.89C387.7,310.08 388.09,308.72 388.14,307.77C388.18,306.81 388.14,305.83 388.5,305.17Z" fill="#000" fill-opacity="0.12" stroke="#222" stroke-opacity="0.89" stroke-width="0.4"/>
<path d="M390,305.96C390.28,305.45 390.77,304.95 391.4,304.92C392.03,304.89 392.73,305.55 393.8,305.76C394.87,305.97 396.6,305.93 397.8,306.16C399,306.39 400.27,306.73 401,307.16C401.73,307.59 402.2,308.19 402.2,308.76C402.2,309.33 401.87,310.09 401,310.56C400.13,311.03 398.47,311.37 397,311.56C395.53,311.75 393.4,311.88 392.2,311.68C391,311.48 390.21,310.98 389.8,310.36C389.39,309.74 389.69,308.69 389.72,307.96C389.75,307.23 389.72,306.47 390,305.96Z" fill="#000" fill-opacity="0.12" stroke="#222" stroke-opacity="1.00" stroke-width="0.4"/>
<ellipse cx="395.50" cy="308.60" rx="11.70" ry="3.80" fill="#444" stroke="#000" stroke-width="1.9" opacity="1"/>
<ellipse cx="393.00" cy="308.50" rx="8.00" ry="0.90" fill="#ddd" stroke="none" stroke-width="0" opacity="1"/>
<ellipse cx="386.50" cy="308.50" rx="2.50" ry="3.40" fill="#eee" stroke="#000" stroke-width="1.9" opacity="1"/>
<path d="M467,297.6C468.67,297.23 470.42,297.9 471.5,298.8C472.58,299.7 473.33,301.3 473.5,303C473.67,304.7 473,307.17 472.5,309C472,310.83 471.42,312.72 470.5,314C469.58,315.28 468.17,316.62 467,316.7C465.83,316.78 464.45,315.95 463.5,314.5C462.55,313.05 461.63,310.25 461.3,308C460.97,305.75 460.55,302.73 461.5,301C462.45,299.27 465.33,297.97 467,297.6Z" fill="#000" fill-opacity="0.08" stroke="#222" stroke-opacity="0.45" stroke-width="0.4"/>
<path d="M466.98,298.39C468.44,298.07 469.98,298.66 470.94,299.45C471.89,300.24 472.55,301.65 472.7,303.14C472.84,304.64 472.26,306.81 471.82,308.42C471.38,310.04 470.86,311.69 470.06,312.82C469.25,313.95 468,315.13 466.98,315.2C465.95,315.27 464.73,314.54 463.9,313.26C463.06,311.99 462.25,309.52 461.96,307.54C461.67,305.56 461.3,302.91 462.14,301.38C462.97,299.86 465.51,298.71 466.98,298.39Z" fill="#000" fill-opacity="0.08" stroke="#222" stroke-opacity="0.54" stroke-width="0.4"/>
<path d="M466.95,299.18C468.22,298.91 469.55,299.41 470.37,300.1C471.2,300.78 471.77,302 471.89,303.29C472.02,304.58 471.51,306.45 471.13,307.85C470.75,309.24 470.31,310.67 469.61,311.65C468.92,312.62 467.84,313.64 466.95,313.7C466.07,313.76 465.01,313.13 464.29,312.03C463.57,310.93 462.87,308.8 462.62,307.09C462.37,305.38 462.05,303.09 462.77,301.77C463.49,300.45 465.69,299.46 466.95,299.18Z" fill="#000" fill-opacity="0.08" stroke="#222" stroke-opacity="0.63" stroke-width="0.4"/>
<path d="M466.93,299.98C467.99,299.74 469.11,300.17 469.81,300.74C470.5,301.32 470.98,302.34 471.09,303.43C471.19,304.52 470.77,306.1 470.45,307.27C470.13,308.45 469.75,309.65 469.17,310.47C468.58,311.29 467.67,312.15 466.93,312.2C466.18,312.25 465.3,311.72 464.69,310.79C464.08,309.86 463.49,308.07 463.28,306.63C463.07,305.19 462.8,303.26 463.41,302.15C464.02,301.04 465.86,300.21 466.93,299.98Z" fill="#000" fill-opacity="0.08" stroke="#222" stroke-opacity="0.73" stroke-width="0.4"/>
<path d="M466.9,300.77C467.77,300.58 468.68,300.92 469.24,301.39C469.81,301.86 470.2,302.69 470.28,303.58C470.37,304.46 470.02,305.74 469.76,306.7C469.5,307.65 469.2,308.63 468.72,309.3C468.25,309.96 467.51,310.66 466.9,310.7C466.3,310.74 465.58,310.31 465.08,309.56C464.59,308.8 464.11,307.35 463.94,306.18C463.77,305.01 463.55,303.44 464.04,302.54C464.54,301.63 466.04,300.96 466.9,300.77Z" fill="#000" fill-opacity="0.08" stroke="#222" stroke-opacity="0.82" stroke-width="0.4"/>
<path d="M466.88,301.56C467.55,301.41 468.25,301.68 468.68,302.04C469.11,302.4 469.41,303.04 469.48,303.72C469.55,304.4 469.28,305.39 469.08,306.12C468.88,306.85 468.65,307.61 468.28,308.12C467.91,308.63 467.35,309.17 466.88,309.2C466.41,309.23 465.86,308.9 465.48,308.32C465.1,307.74 464.73,306.62 464.6,305.72C464.47,304.82 464.3,303.61 464.68,302.92C465.06,302.23 466.21,301.71 466.88,301.56Z" fill="#000" fill-opacity="0.08" stroke="#222" stroke-opacity="0.91" stroke-width="0.4"/>
<path d="M466.86,302.35C467.32,302.25 467.81,302.44 468.12,302.69C468.42,302.94 468.63,303.39 468.68,303.86C468.72,304.34 468.54,305.03 468.4,305.54C468.26,306.06 468.09,306.58 467.84,306.94C467.58,307.3 467.18,307.68 466.86,307.7C466.53,307.72 466.14,307.49 465.88,307.08C465.61,306.68 465.35,305.89 465.26,305.26C465.17,304.63 465.05,303.79 465.32,303.3C465.58,302.82 466.39,302.45 466.86,302.35Z" fill="#000" fill-opacity="0.08" stroke="#222" stroke-opacity="1.00" stroke-width="0.4"/>
<ellipse cx="466.80" cy="304.20" rx="2.80" ry="3.40" fill="#444" stroke="#000" stroke-width="1.9" opacity="1" transform="rotate(15 466.80 304.20)"/>
<ellipse cx="466.00" cy="323.00" rx="2.80" ry="3.50" fill="none" stroke="#555" stroke-width="0.5" opacity="1"/>
<ellipse cx="471.70" cy="323.50" rx="2.60" ry="2.50" fill="none" stroke="#666" stroke-width="0.5" opacity="1"/>
</g>
<rect x="67.40" y="211.30" width="36.0" height="36.0" fill="none" stroke="#5a6aae" stroke-width="0.9"/>
<text x="101.7" y="217" font-size="5.3" text-anchor="end" fill="#5a6aae" stroke="#5a6aae" stroke-width="0.04">9.91</text>
<rect x="47.50" y="203.00" width="62.0" height="61.7" fill="none" stroke="#1a1a1a" stroke-width="1.6"/>
<path d="M45.1,234.94H47.5M45.1,231.98H47.5M45.1,229.89H47.5M45.1,228.26H47.5M45.1,226.93H47.5M45.1,225.8H47.5M45.1,224.83H47.5M45.1,223.97H47.5M45.1,218.77H47.5M45.1,216.19H47.5M45.1,214.35H47.5M45.1,212.93H47.5M45.1,211.76H47.5M45.1,210.78H47.5M45.1,209.92H47.5M45.1,209.17H47.5M44.1,208.5H47.5M44.1,223.2H47.5M44.1,240H47.5M44.1,251.7H47.5M45.1,244.5H47.5M45.1,247.5H47.5M45.1,256H47.5M45.1,259H47.5M45.1,262.5H47.5" stroke="#111" stroke-width="0.8"/>
<path d="M76.83,264.7V267.1M79.95,264.7V267.1M82.16,264.7V267.1M83.87,264.7V267.1M85.27,264.7V267.1M86.46,264.7V267.1M87.48,264.7V267.1M88.39,264.7V267.1M93.5,264.7V267.1M96.02,264.7V267.1M97.81,264.7V267.1M99.2,264.7V267.1M100.33,264.7V267.1M101.28,264.7V267.1M102.11,264.7V267.1M102.85,264.7V267.1M61.9,264.7V268.1M71.5,264.7V268.1M89.2,264.7V268.1M103.5,264.7V268.1M50.5,264.7V267.1M53.5,264.7V267.1M56.5,264.7V267.1M59,264.7V267.1M65,264.7V267.1M68,264.7V267.1" stroke="#111" stroke-width="0.8"/>
<text x="38.9" y="210.9" font-size="6.3" text-anchor="end" fill="#222" stroke="#222" stroke-width="0.04">10</text>
<text x="39" y="208.4" font-size="3.8" fill="#222" stroke="#222" stroke-width="0.04">5</text>
<text x="38.9" y="224.9" font-size="6.3" text-anchor="end" fill="#222" stroke="#222" stroke-width="0.04">10</text>
<text x="39" y="222.4" font-size="3.8" fill="#222" stroke="#222" stroke-width="0.04">4</text>
<text x="38.9" y="242.3" font-size="6.3" text-anchor="end" fill="#222" stroke="#222" stroke-width="0.04">10</text>
<text x="39" y="239.8" font-size="3.8" fill="#222" stroke="#222" stroke-width="0.04">3</text>
<text x="42" y="253.5" font-size="6.3" text-anchor="end" fill="#222" stroke="#222" stroke-width="0.04">0</text>
<text x="61.55" y="276.5" font-size="6.3" text-anchor="middle" fill="#222" stroke="#222" stroke-width="0.04">0</text>
<text x="70.7" y="276.5" font-size="6.3" text-anchor="middle" fill="#222" stroke="#222" stroke-width="0.04">10</text>
<text x="74.1" y="274" font-size="3.8" fill="#222" stroke="#222" stroke-width="0.04">3</text>
<text x="88.4" y="276.5" font-size="6.3" text-anchor="middle" fill="#222" stroke="#222" stroke-width="0.04">10</text>
<text x="91.8" y="274" font-size="3.8" fill="#222" stroke="#222" stroke-width="0.04">4</text>
<text x="102.6" y="276.5" font-size="6.3" text-anchor="middle" fill="#222" stroke="#222" stroke-width="0.04">10</text>
<text x="106" y="274" font-size="3.8" fill="#222" stroke="#222" stroke-width="0.04">5</text>
<text x="78.2" y="197.8" font-size="6.4" text-anchor="middle" fill="#222" stroke="#222" stroke-width="0.06" textLength="34.4" lengthAdjust="spacingAndGlyphs">Unstimulated</text>
<rect x="147.70" y="211.30" width="36.0" height="36.0" fill="none" stroke="#5a6aae" stroke-width="0.9"/>
<text x="182" y="217" font-size="5.3" text-anchor="end" fill="#5a6aae" stroke="#5a6aae" stroke-width="0.04">83.3</text>
<rect x="128.20" y="203.00" width="62.0" height="61.7" fill="none" stroke="#1a1a1a" stroke-width="1.6"/>
<path d="M125.8,234.94H128.2M125.8,231.98H128.2M125.8,229.89H128.2M125.8,228.26H128.2M125.8,226.93H128.2M125.8,225.8H128.2M125.8,224.83H128.2M125.8,223.97H128.2M125.8,218.77H128.2M125.8,216.19H128.2M125.8,214.35H128.2M125.8,212.93H128.2M125.8,211.76H128.2M125.8,210.78H128.2M125.8,209.92H128.2M125.8,209.17H128.2M124.8,208.5H128.2M124.8,223.2H128.2M124.8,240H128.2M124.8,251.7H128.2M125.8,244.5H128.2M125.8,247.5H128.2M125.8,256H128.2M125.8,259H128.2M125.8,262.5H128.2" stroke="#111" stroke-width="0.8"/>
<path d="M157.53,264.7V267.1M160.65,264.7V267.1M162.86,264.7V267.1M164.57,264.7V267.1M165.97,264.7V267.1M167.16,264.7V267.1M168.18,264.7V267.1M169.09,264.7V267.1M174.2,264.7V267.1M176.72,264.7V267.1M178.51,264.7V267.1M179.9,264.7V267.1M181.03,264.7V267.1M181.98,264.7V267.1M182.81,264.7V267.1M183.55,264.7V267.1M142.6,264.7V268.1M152.2,264.7V268.1M169.9,264.7V268.1M184.2,264.7V268.1M131.2,264.7V267.1M134.2,264.7V267.1M137.2,264.7V267.1M139.7,264.7V267.1M145.7,264.7V267.1M148.7,264.7V267.1" stroke="#111" stroke-width="0.8"/>
<text x="119.6" y="210.9" font-size="6.3" text-anchor="end" fill="#222" stroke="#222" stroke-width="0.04">10</text>
<text x="119.7" y="208.4" font-size="3.8" fill="#222" stroke="#222" stroke-width="0.04">5</text>
<text x="119.6" y="224.9" font-size="6.3" text-anchor="end" fill="#222" stroke="#222" stroke-width="0.04">10</text>
<text x="119.7" y="222.4" font-size="3.8" fill="#222" stroke="#222" stroke-width="0.04">4</text>
<text x="119.6" y="242.3" font-size="6.3" text-anchor="end" fill="#222" stroke="#222" stroke-width="0.04">10</text>
<text x="119.7" y="239.8" font-size="3.8" fill="#222" stroke="#222" stroke-width="0.04">3</text>
<text x="122.7" y="253.5" font-size="6.3" text-anchor="end" fill="#222" stroke="#222" stroke-width="0.04">0</text>
<text x="142.25" y="276.5" font-size="6.3" text-anchor="middle" fill="#222" stroke="#222" stroke-width="0.04">0</text>
<text x="151.4" y="276.5" font-size="6.3" text-anchor="middle" fill="#222" stroke="#222" stroke-width="0.04">10</text>
<text x="154.8" y="274" font-size="3.8" fill="#222" stroke="#222" stroke-width="0.04">3</text>
<text x="169.1" y="276.5" font-size="6.3" text-anchor="middle" fill="#222" stroke="#222" stroke-width="0.04">10</text>
<text x="172.5" y="274" font-size="3.8" fill="#222" stroke="#222" stroke-width="0.04">4</text>
<text x="183.3" y="276.5" font-size="6.3" text-anchor="middle" fill="#222" stroke="#222" stroke-width="0.04">10</text>
<text x="186.7" y="274" font-size="3.8" fill="#222" stroke="#222" stroke-width="0.04">5</text>
<text x="159.35" y="197.8" font-size="6.4" text-anchor="middle" fill="#222" stroke="#222" stroke-width="0.06" textLength="51.3" lengthAdjust="spacingAndGlyphs">Anti-IgM stimulated</text>
<rect x="228.90" y="211.30" width="36.0" height="36.0" fill="none" stroke="#5a6aae" stroke-width="0.9"/>
<text x="263.2" y="217" font-size="5.3" text-anchor="end" fill="#5a6aae" stroke="#5a6aae" stroke-width="0.04">3.23</text>
<rect x="208.90" y="203.00" width="62.0" height="61.7" fill="none" stroke="#1a1a1a" stroke-width="1.6"/>
<path d="M206.5,234.94H208.9M206.5,231.98H208.9M206.5,229.89H208.9M206.5,228.26H208.9M206.5,226.93H208.9M206.5,225.8H208.9M206.5,224.83H208.9M206.5,223.97H208.9M206.5,218.77H208.9M206.5,216.19H208.9M206.5,214.35H208.9M206.5,212.93H208.9M206.5,211.76H208.9M206.5,210.78H208.9M206.5,209.92H208.9M206.5,209.17H208.9M205.5,208.5H208.9M205.5,223.2H208.9M205.5,240H208.9M205.5,251.7H208.9M206.5,244.5H208.9M206.5,247.5H208.9M206.5,256H208.9M206.5,259H208.9M206.5,262.5H208.9" stroke="#111" stroke-width="0.8"/>
<path d="M238.23,264.7V267.1M241.35,264.7V267.1M243.56,264.7V267.1M245.27,264.7V267.1M246.67,264.7V267.1M247.86,264.7V267.1M248.88,264.7V267.1M249.79,264.7V267.1M254.9,264.7V267.1M257.42,264.7V267.1M259.21,264.7V267.1M260.6,264.7V267.1M261.73,264.7V267.1M262.68,264.7V267.1M263.51,264.7V267.1M264.25,264.7V267.1M223.3,264.7V268.1M232.9,264.7V268.1M250.6,264.7V268.1M264.9,264.7V268.1M211.9,264.7V267.1M214.9,264.7V267.1M217.9,264.7V267.1M220.4,264.7V267.1M226.4,264.7V267.1M229.4,264.7V267.1" stroke="#111" stroke-width="0.8"/>
<text x="200.3" y="210.9" font-size="6.3" text-anchor="end" fill="#222" stroke="#222" stroke-width="0.04">10</text>
<text x="200.4" y="208.4" font-size="3.8" fill="#222" stroke="#222" stroke-width="0.04">5</text>
<text x="200.3" y="224.9" font-size="6.3" text-anchor="end" fill="#222" stroke="#222" stroke-width="0.04">10</text>
<text x="200.4" y="222.4" font-size="3.8" fill="#222" stroke="#222" stroke-width="0.04">4</text>
<text x="200.3" y="242.3" font-size="6.3" text-anchor="end" fill="#222" stroke="#222" stroke-width="0.04">10</text>
<text x="200.4" y="239.8" font-size="3.8" fill="#222" stroke="#222" stroke-width="0.04">3</text>
<text x="203.4" y="253.5" font-size="6.3" text-anchor="end" fill="#222" stroke="#222" stroke-width="0.04">0</text>
<text x="222.95" y="276.5" font-size="6.3" text-anchor="middle" fill="#222" stroke="#222" stroke-width="0.04">0</text>
<text x="232.1" y="276.5" font-size="6.3" text-anchor="middle" fill="#222" stroke="#222" stroke-width="0.04">10</text>
<text x="235.5" y="274" font-size="3.8" fill="#222" stroke="#222" stroke-width="0.04">3</text>
<text x="249.8" y="276.5" font-size="6.3" text-anchor="middle" fill="#222" stroke="#222" stroke-width="0.04">10</text>
<text x="253.2" y="274" font-size="3.8" fill="#222" stroke="#222" stroke-width="0.04">4</text>
<text x="264" y="276.5" font-size="6.3" text-anchor="middle" fill="#222" stroke="#222" stroke-width="0.04">10</text>
<text x="267.4" y="274" font-size="3.8" fill="#222" stroke="#222" stroke-width="0.04">5</text>
<text x="240.05" y="197.8" font-size="6.4" text-anchor="middle" fill="#222" stroke="#222" stroke-width="0.06" textLength="46.7" lengthAdjust="spacingAndGlyphs">Ibrutinib 0.25 &#181;M</text>
<rect x="309.60" y="211.30" width="36.0" height="36.0" fill="none" stroke="#5a6aae" stroke-width="0.9"/>
<text x="343.9" y="217" font-size="5.3" text-anchor="end" fill="#5a6aae" stroke="#5a6aae" stroke-width="0.04">2.35</text>
<rect x="289.60" y="203.00" width="62.0" height="61.7" fill="none" stroke="#1a1a1a" stroke-width="1.6"/>
<path d="M287.2,234.94H289.6M287.2,231.98H289.6M287.2,229.89H289.6M287.2,228.26H289.6M287.2,226.93H289.6M287.2,225.8H289.6M287.2,224.83H289.6M287.2,223.97H289.6M287.2,218.77H289.6M287.2,216.19H289.6M287.2,214.35H289.6M287.2,212.93H289.6M287.2,211.76H289.6M287.2,210.78H289.6M287.2,209.92H289.6M287.2,209.17H289.6M286.2,208.5H289.6M286.2,223.2H289.6M286.2,240H289.6M286.2,251.7H289.6M287.2,244.5H289.6M287.2,247.5H289.6M287.2,256H289.6M287.2,259H289.6M287.2,262.5H289.6" stroke="#111" stroke-width="0.8"/>
<path d="M318.93,264.7V267.1M322.05,264.7V267.1M324.26,264.7V267.1M325.97,264.7V267.1M327.37,264.7V267.1M328.56,264.7V267.1M329.58,264.7V267.1M330.49,264.7V267.1M335.6,264.7V267.1M338.12,264.7V267.1M339.91,264.7V267.1M341.3,264.7V267.1M342.43,264.7V267.1M343.38,264.7V267.1M344.21,264.7V267.1M344.95,264.7V267.1M304,264.7V268.1M313.6,264.7V268.1M331.3,264.7V268.1M345.6,264.7V268.1M292.6,264.7V267.1M295.6,264.7V267.1M298.6,264.7V267.1M301.1,264.7V267.1M307.1,264.7V267.1M310.1,264.7V267.1" stroke="#111" stroke-width="0.8"/>
<text x="281" y="210.9" font-size="6.3" text-anchor="end" fill="#222" stroke="#222" stroke-width="0.04">10</text>
<text x="281.1" y="208.4" font-size="3.8" fill="#222" stroke="#222" stroke-width="0.04">5</text>
<text x="281" y="224.9" font-size="6.3" text-anchor="end" fill="#222" stroke="#222" stroke-width="0.04">10</text>
<text x="281.1" y="222.4" font-size="3.8" fill="#222" stroke="#222" stroke-width="0.04">4</text>
<text x="281" y="242.3" font-size="6.3" text-anchor="end" fill="#222" stroke="#222" stroke-width="0.04">10</text>
<text x="281.1" y="239.8" font-size="3.8" fill="#222" stroke="#222" stroke-width="0.04">3</text>
<text x="284.1" y="253.5" font-size="6.3" text-anchor="end" fill="#222" stroke="#222" stroke-width="0.04">0</text>
<text x="303.65" y="276.5" font-size="6.3" text-anchor="middle" fill="#222" stroke="#222" stroke-width="0.04">0</text>
<text x="312.8" y="276.5" font-size="6.3" text-anchor="middle" fill="#222" stroke="#222" stroke-width="0.04">10</text>
<text x="316.2" y="274" font-size="3.8" fill="#222" stroke="#222" stroke-width="0.04">3</text>
<text x="330.5" y="276.5" font-size="6.3" text-anchor="middle" fill="#222" stroke="#222" stroke-width="0.04">10</text>
<text x="333.9" y="274" font-size="3.8" fill="#222" stroke="#222" stroke-width="0.04">4</text>
<text x="344.7" y="276.5" font-size="6.3" text-anchor="middle" fill="#222" stroke="#222" stroke-width="0.04">10</text>
<text x="348.1" y="274" font-size="3.8" fill="#222" stroke="#222" stroke-width="0.04">5</text>
<text x="320.8" y="197.8" font-size="6.4" text-anchor="middle" fill="#222" stroke="#222" stroke-width="0.06" textLength="60" lengthAdjust="spacingAndGlyphs">Acalabrutinib 0.75 &#181;M</text>
<rect x="390.30" y="211.30" width="36.0" height="36.0" fill="none" stroke="#5a6aae" stroke-width="0.9"/>
<text x="424.6" y="217" font-size="5.3" text-anchor="end" fill="#5a6aae" stroke="#5a6aae" stroke-width="0.04">0.64</text>
<rect x="370.30" y="203.00" width="62.0" height="61.7" fill="none" stroke="#1a1a1a" stroke-width="1.6"/>
<path d="M367.9,234.94H370.3M367.9,231.98H370.3M367.9,229.89H370.3M367.9,228.26H370.3M367.9,226.93H370.3M367.9,225.8H370.3M367.9,224.83H370.3M367.9,223.97H370.3M367.9,218.77H370.3M367.9,216.19H370.3M367.9,214.35H370.3M367.9,212.93H370.3M367.9,211.76H370.3M367.9,210.78H370.3M367.9,209.92H370.3M367.9,209.17H370.3M366.9,208.5H370.3M366.9,223.2H370.3M366.9,240H370.3M366.9,251.7H370.3M367.9,244.5H370.3M367.9,247.5H370.3M367.9,256H370.3M367.9,259H370.3M367.9,262.5H370.3" stroke="#111" stroke-width="0.8"/>
<path d="M399.63,264.7V267.1M402.75,264.7V267.1M404.96,264.7V267.1M406.67,264.7V267.1M408.07,264.7V267.1M409.26,264.7V267.1M410.28,264.7V267.1M411.19,264.7V267.1M416.3,264.7V267.1M418.82,264.7V267.1M420.61,264.7V267.1M422,264.7V267.1M423.13,264.7V267.1M424.08,264.7V267.1M424.91,264.7V267.1M425.65,264.7V267.1M384.7,264.7V268.1M394.3,264.7V268.1M412,264.7V268.1M426.3,264.7V268.1M373.3,264.7V267.1M376.3,264.7V267.1M379.3,264.7V267.1M381.8,264.7V267.1M387.8,264.7V267.1M390.8,264.7V267.1" stroke="#111" stroke-width="0.8"/>
<text x="361.7" y="210.9" font-size="6.3" text-anchor="end" fill="#222" stroke="#222" stroke-width="0.04">10</text>
<text x="361.8" y="208.4" font-size="3.8" fill="#222" stroke="#222" stroke-width="0.04">5</text>
<text x="361.7" y="224.9" font-size="6.3" text-anchor="end" fill="#222" stroke="#222" stroke-width="0.04">10</text>
<text x="361.8" y="222.4" font-size="3.8" fill="#222" stroke="#222" stroke-width="0.04">4</text>
<text x="361.7" y="242.3" font-size="6.3" text-anchor="end" fill="#222" stroke="#222" stroke-width="0.04">10</text>
<text x="361.8" y="239.8" font-size="3.8" fill="#222" stroke="#222" stroke-width="0.04">3</text>
<text x="364.8" y="253.5" font-size="6.3" text-anchor="end" fill="#222" stroke="#222" stroke-width="0.04">0</text>
<text x="384.35" y="276.5" font-size="6.3" text-anchor="middle" fill="#222" stroke="#222" stroke-width="0.04">0</text>
<text x="393.5" y="276.5" font-size="6.3" text-anchor="middle" fill="#222" stroke="#222" stroke-width="0.04">10</text>
<text x="396.9" y="274" font-size="3.8" fill="#222" stroke="#222" stroke-width="0.04">3</text>
<text x="411.2" y="276.5" font-size="6.3" text-anchor="middle" fill="#222" stroke="#222" stroke-width="0.04">10</text>
<text x="414.6" y="274" font-size="3.8" fill="#222" stroke="#222" stroke-width="0.04">4</text>
<text x="425.4" y="276.5" font-size="6.3" text-anchor="middle" fill="#222" stroke="#222" stroke-width="0.04">10</text>
<text x="428.8" y="274" font-size="3.8" fill="#222" stroke="#222" stroke-width="0.04">5</text>
<text x="401.85" y="197.8" font-size="6.4" text-anchor="middle" fill="#222" stroke="#222" stroke-width="0.06" textLength="57.7" lengthAdjust="spacingAndGlyphs">Zanubrutinib 0.25 &#181;M</text>
<rect x="471.10" y="211.30" width="36.0" height="36.0" fill="none" stroke="#5a6aae" stroke-width="0.9"/>
<text x="505.4" y="217" font-size="5.3" text-anchor="end" fill="#5a6aae" stroke="#5a6aae" stroke-width="0.04">1.92</text>
<rect x="451.00" y="203.00" width="62.0" height="61.7" fill="none" stroke="#1a1a1a" stroke-width="1.6"/>
<path d="M448.6,234.94H451M448.6,231.98H451M448.6,229.89H451M448.6,228.26H451M448.6,226.93H451M448.6,225.8H451M448.6,224.83H451M448.6,223.97H451M448.6,218.77H451M448.6,216.19H451M448.6,214.35H451M448.6,212.93H451M448.6,211.76H451M448.6,210.78H451M448.6,209.92H451M448.6,209.17H451M447.6,208.5H451M447.6,223.2H451M447.6,240H451M447.6,251.7H451M448.6,244.5H451M448.6,247.5H451M448.6,256H451M448.6,259H451M448.6,262.5H451" stroke="#111" stroke-width="0.8"/>
<path d="M480.33,264.7V267.1M483.45,264.7V267.1M485.66,264.7V267.1M487.37,264.7V267.1M488.77,264.7V267.1M489.96,264.7V267.1M490.98,264.7V267.1M491.89,264.7V267.1M497,264.7V267.1M499.52,264.7V267.1M501.31,264.7V267.1M502.7,264.7V267.1M503.83,264.7V267.1M504.78,264.7V267.1M505.61,264.7V267.1M506.35,264.7V267.1M465.4,264.7V268.1M475,264.7V268.1M492.7,264.7V268.1M507,264.7V268.1M454,264.7V267.1M457,264.7V267.1M460,264.7V267.1M462.5,264.7V267.1M468.5,264.7V267.1M471.5,264.7V267.1" stroke="#111" stroke-width="0.8"/>
<text x="442.4" y="210.9" font-size="6.3" text-anchor="end" fill="#222" stroke="#222" stroke-width="0.04">10</text>
<text x="442.5" y="208.4" font-size="3.8" fill="#222" stroke="#222" stroke-width="0.04">5</text>
<text x="442.4" y="224.9" font-size="6.3" text-anchor="end" fill="#222" stroke="#222" stroke-width="0.04">10</text>
<text x="442.5" y="222.4" font-size="3.8" fill="#222" stroke="#222" stroke-width="0.04">4</text>
<text x="442.4" y="242.3" font-size="6.3" text-anchor="end" fill="#222" stroke="#222" stroke-width="0.04">10</text>
<text x="442.5" y="239.8" font-size="3.8" fill="#222" stroke="#222" stroke-width="0.04">3</text>
<text x="445.5" y="253.5" font-size="6.3" text-anchor="end" fill="#222" stroke="#222" stroke-width="0.04">0</text>
<text x="465.05" y="276.5" font-size="6.3" text-anchor="middle" fill="#222" stroke="#222" stroke-width="0.04">0</text>
<text x="474.2" y="276.5" font-size="6.3" text-anchor="middle" fill="#222" stroke="#222" stroke-width="0.04">10</text>
<text x="477.6" y="274" font-size="3.8" fill="#222" stroke="#222" stroke-width="0.04">3</text>
<text x="491.9" y="276.5" font-size="6.3" text-anchor="middle" fill="#222" stroke="#222" stroke-width="0.04">10</text>
<text x="495.3" y="274" font-size="3.8" fill="#222" stroke="#222" stroke-width="0.04">4</text>
<text x="506.1" y="276.5" font-size="6.3" text-anchor="middle" fill="#222" stroke="#222" stroke-width="0.04">10</text>
<text x="509.5" y="274" font-size="3.8" fill="#222" stroke="#222" stroke-width="0.04">5</text>
<text x="482.5" y="197.8" font-size="6.4" text-anchor="middle" fill="#222" stroke="#222" stroke-width="0.06" textLength="45" lengthAdjust="spacingAndGlyphs">RN486 0.75 &#181;M</text>
<rect x="67.40" y="295.60" width="36.0" height="36.0" fill="none" stroke="#5a6aae" stroke-width="0.9"/>
<text x="101.7" y="301.3" font-size="5.3" text-anchor="end" fill="#5a6aae" stroke="#5a6aae" stroke-width="0.04">10.1</text>
<rect x="47.50" y="287.30" width="62.0" height="61.7" fill="none" stroke="#1a1a1a" stroke-width="1.6"/>
<path d="M45.1,319.24H47.5M45.1,316.28H47.5M45.1,314.19H47.5M45.1,312.56H47.5M45.1,311.23H47.5M45.1,310.1H47.5M45.1,309.13H47.5M45.1,308.27H47.5M45.1,303.07H47.5M45.1,300.49H47.5M45.1,298.65H47.5M45.1,297.23H47.5M45.1,296.06H47.5M45.1,295.08H47.5M45.1,294.22H47.5M45.1,293.47H47.5M44.1,292.8H47.5M44.1,307.5H47.5M44.1,324.3H47.5M44.1,336H47.5M45.1,328.8H47.5M45.1,331.8H47.5M45.1,340.3H47.5M45.1,343.3H47.5M45.1,346.8H47.5" stroke="#111" stroke-width="0.8"/>
<path d="M76.83,349V351.4M79.95,349V351.4M82.16,349V351.4M83.87,349V351.4M85.27,349V351.4M86.46,349V351.4M87.48,349V351.4M88.39,349V351.4M93.5,349V351.4M96.02,349V351.4M97.81,349V351.4M99.2,349V351.4M100.33,349V351.4M101.28,349V351.4M102.11,349V351.4M102.85,349V351.4M61.9,349V352.4M71.5,349V352.4M89.2,349V352.4M103.5,349V352.4M50.5,349V351.4M53.5,349V351.4M56.5,349V351.4M59,349V351.4M65,349V351.4M68,349V351.4" stroke="#111" stroke-width="0.8"/>
<text x="38.9" y="295.2" font-size="6.3" text-anchor="end" fill="#222" stroke="#222" stroke-width="0.04">10</text>
<text x="39" y="292.7" font-size="3.8" fill="#222" stroke="#222" stroke-width="0.04">5</text>
<text x="38.9" y="309.2" font-size="6.3" text-anchor="end" fill="#222" stroke="#222" stroke-width="0.04">10</text>
<text x="39" y="306.7" font-size="3.8" fill="#222" stroke="#222" stroke-width="0.04">4</text>
<text x="38.9" y="326.6" font-size="6.3" text-anchor="end" fill="#222" stroke="#222" stroke-width="0.04">10</text>
<text x="39" y="324.1" font-size="3.8" fill="#222" stroke="#222" stroke-width="0.04">3</text>
<text x="42" y="337.8" font-size="6.3" text-anchor="end" fill="#222" stroke="#222" stroke-width="0.04">0</text>
<text x="61.55" y="360.8" font-size="6.3" text-anchor="middle" fill="#222" stroke="#222" stroke-width="0.04">0</text>
<text x="70.7" y="360.8" font-size="6.3" text-anchor="middle" fill="#222" stroke="#222" stroke-width="0.04">10</text>
<text x="74.1" y="358.3" font-size="3.8" fill="#222" stroke="#222" stroke-width="0.04">3</text>
<text x="88.4" y="360.8" font-size="6.3" text-anchor="middle" fill="#222" stroke="#222" stroke-width="0.04">10</text>
<text x="91.8" y="358.3" font-size="3.8" fill="#222" stroke="#222" stroke-width="0.04">4</text>
<text x="102.6" y="360.8" font-size="6.3" text-anchor="middle" fill="#222" stroke="#222" stroke-width="0.04">10</text>
<text x="106" y="358.3" font-size="3.8" fill="#222" stroke="#222" stroke-width="0.04">5</text>
<rect x="147.70" y="295.60" width="36.0" height="36.0" fill="none" stroke="#5a6aae" stroke-width="0.9"/>
<text x="182" y="301.3" font-size="5.3" text-anchor="end" fill="#5a6aae" stroke="#5a6aae" stroke-width="0.04">72.1</text>
<rect x="128.20" y="287.30" width="62.0" height="61.7" fill="none" stroke="#1a1a1a" stroke-width="1.6"/>
<path d="M125.8,319.24H128.2M125.8,316.28H128.2M125.8,314.19H128.2M125.8,312.56H128.2M125.8,311.23H128.2M125.8,310.1H128.2M125.8,309.13H128.2M125.8,308.27H128.2M125.8,303.07H128.2M125.8,300.49H128.2M125.8,298.65H128.2M125.8,297.23H128.2M125.8,296.06H128.2M125.8,295.08H128.2M125.8,294.22H128.2M125.8,293.47H128.2M124.8,292.8H128.2M124.8,307.5H128.2M124.8,324.3H128.2M124.8,336H128.2M125.8,328.8H128.2M125.8,331.8H128.2M125.8,340.3H128.2M125.8,343.3H128.2M125.8,346.8H128.2" stroke="#111" stroke-width="0.8"/>
<path d="M157.53,349V351.4M160.65,349V351.4M162.86,349V351.4M164.57,349V351.4M165.97,349V351.4M167.16,349V351.4M168.18,349V351.4M169.09,349V351.4M174.2,349V351.4M176.72,349V351.4M178.51,349V351.4M179.9,349V351.4M181.03,349V351.4M181.98,349V351.4M182.81,349V351.4M183.55,349V351.4M142.6,349V352.4M152.2,349V352.4M169.9,349V352.4M184.2,349V352.4M131.2,349V351.4M134.2,349V351.4M137.2,349V351.4M139.7,349V351.4M145.7,349V351.4M148.7,349V351.4" stroke="#111" stroke-width="0.8"/>
<text x="119.6" y="295.2" font-size="6.3" text-anchor="end" fill="#222" stroke="#222" stroke-width="0.04">10</text>
<text x="119.7" y="292.7" font-size="3.8" fill="#222" stroke="#222" stroke-width="0.04">5</text>
<text x="119.6" y="309.2" font-size="6.3" text-anchor="end" fill="#222" stroke="#222" stroke-width="0.04">10</text>
<text x="119.7" y="306.7" font-size="3.8" fill="#222" stroke="#222" stroke-width="0.04">4</text>
<text x="119.6" y="326.6" font-size="6.3" text-anchor="end" fill="#222" stroke="#222" stroke-width="0.04">10</text>
<text x="119.7" y="324.1" font-size="3.8" fill="#222" stroke="#222" stroke-width="0.04">3</text>
<text x="122.7" y="337.8" font-size="6.3" text-anchor="end" fill="#222" stroke="#222" stroke-width="0.04">0</text>
<text x="142.25" y="360.8" font-size="6.3" text-anchor="middle" fill="#222" stroke="#222" stroke-width="0.04">0</text>
<text x="151.4" y="360.8" font-size="6.3" text-anchor="middle" fill="#222" stroke="#222" stroke-width="0.04">10</text>
<text x="154.8" y="358.3" font-size="3.8" fill="#222" stroke="#222" stroke-width="0.04">3</text>
<text x="169.1" y="360.8" font-size="6.3" text-anchor="middle" fill="#222" stroke="#222" stroke-width="0.04">10</text>
<text x="172.5" y="358.3" font-size="3.8" fill="#222" stroke="#222" stroke-width="0.04">4</text>
<text x="183.3" y="360.8" font-size="6.3" text-anchor="middle" fill="#222" stroke="#222" stroke-width="0.04">10</text>
<text x="186.7" y="358.3" font-size="3.8" fill="#222" stroke="#222" stroke-width="0.04">5</text>
<rect x="228.90" y="295.60" width="36.0" height="36.0" fill="none" stroke="#5a6aae" stroke-width="0.9"/>
<text x="263.2" y="301.3" font-size="5.3" text-anchor="end" fill="#5a6aae" stroke="#5a6aae" stroke-width="0.04">48.8</text>
<rect x="208.90" y="287.30" width="62.0" height="61.7" fill="none" stroke="#1a1a1a" stroke-width="1.6"/>
<path d="M206.5,319.24H208.9M206.5,316.28H208.9M206.5,314.19H208.9M206.5,312.56H208.9M206.5,311.23H208.9M206.5,310.1H208.9M206.5,309.13H208.9M206.5,308.27H208.9M206.5,303.07H208.9M206.5,300.49H208.9M206.5,298.65H208.9M206.5,297.23H208.9M206.5,296.06H208.9M206.5,295.08H208.9M206.5,294.22H208.9M206.5,293.47H208.9M205.5,292.8H208.9M205.5,307.5H208.9M205.5,324.3H208.9M205.5,336H208.9M206.5,328.8H208.9M206.5,331.8H208.9M206.5,340.3H208.9M206.5,343.3H208.9M206.5,346.8H208.9" stroke="#111" stroke-width="0.8"/>
<path d="M238.23,349V351.4M241.35,349V351.4M243.56,349V351.4M245.27,349V351.4M246.67,349V351.4M247.86,349V351.4M248.88,349V351.4M249.79,349V351.4M254.9,349V351.4M257.42,349V351.4M259.21,349V351.4M260.6,349V351.4M261.73,349V351.4M262.68,349V351.4M263.51,349V351.4M264.25,349V351.4M223.3,349V352.4M232.9,349V352.4M250.6,349V352.4M264.9,349V352.4M211.9,349V351.4M214.9,349V351.4M217.9,349V351.4M220.4,349V351.4M226.4,349V351.4M229.4,349V351.4" stroke="#111" stroke-width="0.8"/>
<text x="200.3" y="295.2" font-size="6.3" text-anchor="end" fill="#222" stroke="#222" stroke-width="0.04">10</text>
<text x="200.4" y="292.7" font-size="3.8" fill="#222" stroke="#222" stroke-width="0.04">5</text>
<text x="200.3" y="309.2" font-size="6.3" text-anchor="end" fill="#222" stroke="#222" stroke-width="0.04">10</text>
<text x="200.4" y="306.7" font-size="3.8" fill="#222" stroke="#222" stroke-width="0.04">4</text>
<text x="200.3" y="326.6" font-size="6.3" text-anchor="end" fill="#222" stroke="#222" stroke-width="0.04">10</text>
<text x="200.4" y="324.1" font-size="3.8" fill="#222" stroke="#222" stroke-width="0.04">3</text>
<text x="203.4" y="337.8" font-size="6.3" text-anchor="end" fill="#222" stroke="#222" stroke-width="0.04">0</text>
<text x="222.95" y="360.8" font-size="6.3" text-anchor="middle" fill="#222" stroke="#222" stroke-width="0.04">0</text>
<text x="232.1" y="360.8" font-size="6.3" text-anchor="middle" fill="#222" stroke="#222" stroke-width="0.04">10</text>
<text x="235.5" y="358.3" font-size="3.8" fill="#222" stroke="#222" stroke-width="0.04">3</text>
<text x="249.8" y="360.8" font-size="6.3" text-anchor="middle" fill="#222" stroke="#222" stroke-width="0.04">10</text>
<text x="253.2" y="358.3" font-size="3.8" fill="#222" stroke="#222" stroke-width="0.04">4</text>
<text x="264" y="360.8" font-size="6.3" text-anchor="middle" fill="#222" stroke="#222" stroke-width="0.04">10</text>
<text x="267.4" y="358.3" font-size="3.8" fill="#222" stroke="#222" stroke-width="0.04">5</text>
<rect x="309.60" y="295.60" width="36.0" height="36.0" fill="none" stroke="#5a6aae" stroke-width="0.9"/>
<text x="343.9" y="301.3" font-size="5.3" text-anchor="end" fill="#5a6aae" stroke="#5a6aae" stroke-width="0.04">48.6</text>
<rect x="289.60" y="287.30" width="62.0" height="61.7" fill="none" stroke="#1a1a1a" stroke-width="1.6"/>
<path d="M287.2,319.24H289.6M287.2,316.28H289.6M287.2,314.19H289.6M287.2,312.56H289.6M287.2,311.23H289.6M287.2,310.1H289.6M287.2,309.13H289.6M287.2,308.27H289.6M287.2,303.07H289.6M287.2,300.49H289.6M287.2,298.65H289.6M287.2,297.23H289.6M287.2,296.06H289.6M287.2,295.08H289.6M287.2,294.22H289.6M287.2,293.47H289.6M286.2,292.8H289.6M286.2,307.5H289.6M286.2,324.3H289.6M286.2,336H289.6M287.2,328.8H289.6M287.2,331.8H289.6M287.2,340.3H289.6M287.2,343.3H289.6M287.2,346.8H289.6" stroke="#111" stroke-width="0.8"/>
<path d="M318.93,349V351.4M322.05,349V351.4M324.26,349V351.4M325.97,349V351.4M327.37,349V351.4M328.56,349V351.4M329.58,349V351.4M330.49,349V351.4M335.6,349V351.4M338.12,349V351.4M339.91,349V351.4M341.3,349V351.4M342.43,349V351.4M343.38,349V351.4M344.21,349V351.4M344.95,349V351.4M304,349V352.4M313.6,349V352.4M331.3,349V352.4M345.6,349V352.4M292.6,349V351.4M295.6,349V351.4M298.6,349V351.4M301.1,349V351.4M307.1,349V351.4M310.1,349V351.4" stroke="#111" stroke-width="0.8"/>
<text x="281" y="295.2" font-size="6.3" text-anchor="end" fill="#222" stroke="#222" stroke-width="0.04">10</text>
<text x="281.1" y="292.7" font-size="3.8" fill="#222" stroke="#222" stroke-width="0.04">5</text>
<text x="281" y="309.2" font-size="6.3" text-anchor="end" fill="#222" stroke="#222" stroke-width="0.04">10</text>
<text x="281.1" y="306.7" font-size="3.8" fill="#222" stroke="#222" stroke-width="0.04">4</text>
<text x="281" y="326.6" font-size="6.3" text-anchor="end" fill="#222" stroke="#222" stroke-width="0.04">10</text>
<text x="281.1" y="324.1" font-size="3.8" fill="#222" stroke="#222" stroke-width="0.04">3</text>
<text x="284.1" y="337.8" font-size="6.3" text-anchor="end" fill="#222" stroke="#222" stroke-width="0.04">0</text>
<text x="303.65" y="360.8" font-size="6.3" text-anchor="middle" fill="#222" stroke="#222" stroke-width="0.04">0</text>
<text x="312.8" y="360.8" font-size="6.3" text-anchor="middle" fill="#222" stroke="#222" stroke-width="0.04">10</text>
<text x="316.2" y="358.3" font-size="3.8" fill="#222" stroke="#222" stroke-width="0.04">3</text>
<text x="330.5" y="360.8" font-size="6.3" text-anchor="middle" fill="#222" stroke="#222" stroke-width="0.04">10</text>
<text x="333.9" y="358.3" font-size="3.8" fill="#222" stroke="#222" stroke-width="0.04">4</text>
<text x="344.7" y="360.8" font-size="6.3" text-anchor="middle" fill="#222" stroke="#222" stroke-width="0.04">10</text>
<text x="348.1" y="358.3" font-size="3.8" fill="#222" stroke="#222" stroke-width="0.04">5</text>
<rect x="390.30" y="295.60" width="36.0" height="36.0" fill="none" stroke="#5a6aae" stroke-width="0.9"/>
<text x="424.6" y="301.3" font-size="5.3" text-anchor="end" fill="#5a6aae" stroke="#5a6aae" stroke-width="0.04">65.5</text>
<rect x="370.30" y="287.30" width="62.0" height="61.7" fill="none" stroke="#1a1a1a" stroke-width="1.6"/>
<path d="M367.9,319.24H370.3M367.9,316.28H370.3M367.9,314.19H370.3M367.9,312.56H370.3M367.9,311.23H370.3M367.9,310.1H370.3M367.9,309.13H370.3M367.9,308.27H370.3M367.9,303.07H370.3M367.9,300.49H370.3M367.9,298.65H370.3M367.9,297.23H370.3M367.9,296.06H370.3M367.9,295.08H370.3M367.9,294.22H370.3M367.9,293.47H370.3M366.9,292.8H370.3M366.9,307.5H370.3M366.9,324.3H370.3M366.9,336H370.3M367.9,328.8H370.3M367.9,331.8H370.3M367.9,340.3H370.3M367.9,343.3H370.3M367.9,346.8H370.3" stroke="#111" stroke-width="0.8"/>
<path d="M399.63,349V351.4M402.75,349V351.4M404.96,349V351.4M406.67,349V351.4M408.07,349V351.4M409.26,349V351.4M410.28,349V351.4M411.19,349V351.4M416.3,349V351.4M418.82,349V351.4M420.61,349V351.4M422,349V351.4M423.13,349V351.4M424.08,349V351.4M424.91,349V351.4M425.65,349V351.4M384.7,349V352.4M394.3,349V352.4M412,349V352.4M426.3,349V352.4M373.3,349V351.4M376.3,349V351.4M379.3,349V351.4M381.8,349V351.4M387.8,349V351.4M390.8,349V351.4" stroke="#111" stroke-width="0.8"/>
<text x="361.7" y="295.2" font-size="6.3" text-anchor="end" fill="#222" stroke="#222" stroke-width="0.04">10</text>
<text x="361.8" y="292.7" font-size="3.8" fill="#222" stroke="#222" stroke-width="0.04">5</text>
<text x="361.7" y="309.2" font-size="6.3" text-anchor="end" fill="#222" stroke="#222" stroke-width="0.04">10</text>
<text x="361.8" y="306.7" font-size="3.8" fill="#222" stroke="#222" stroke-width="0.04">4</text>
<text x="361.7" y="326.6" font-size="6.3" text-anchor="end" fill="#222" stroke="#222" stroke-width="0.04">10</text>
<text x="361.8" y="324.1" font-size="3.8" fill="#222" stroke="#222" stroke-width="0.04">3</text>
<text x="364.8" y="337.8" font-size="6.3" text-anchor="end" fill="#222" stroke="#222" stroke-width="0.04">0</text>
<text x="384.35" y="360.8" font-size="6.3" text-anchor="middle" fill="#222" stroke="#222" stroke-width="0.04">0</text>
<text x="393.5" y="360.8" font-size="6.3" text-anchor="middle" fill="#222" stroke="#222" stroke-width="0.04">10</text>
<text x="396.9" y="358.3" font-size="3.8" fill="#222" stroke="#222" stroke-width="0.04">3</text>
<text x="411.2" y="360.8" font-size="6.3" text-anchor="middle" fill="#222" stroke="#222" stroke-width="0.04">10</text>
<text x="414.6" y="358.3" font-size="3.8" fill="#222" stroke="#222" stroke-width="0.04">4</text>
<text x="425.4" y="360.8" font-size="6.3" text-anchor="middle" fill="#222" stroke="#222" stroke-width="0.04">10</text>
<text x="428.8" y="358.3" font-size="3.8" fill="#222" stroke="#222" stroke-width="0.04">5</text>
<rect x="471.10" y="295.60" width="36.0" height="36.0" fill="none" stroke="#5a6aae" stroke-width="0.9"/>
<text x="505.4" y="301.3" font-size="5.3" text-anchor="end" fill="#5a6aae" stroke="#5a6aae" stroke-width="0.04">3.45</text>
<rect x="451.00" y="287.30" width="62.0" height="61.7" fill="none" stroke="#1a1a1a" stroke-width="1.6"/>
<path d="M448.6,319.24H451M448.6,316.28H451M448.6,314.19H451M448.6,312.56H451M448.6,311.23H451M448.6,310.1H451M448.6,309.13H451M448.6,308.27H451M448.6,303.07H451M448.6,300.49H451M448.6,298.65H451M448.6,297.23H451M448.6,296.06H451M448.6,295.08H451M448.6,294.22H451M448.6,293.47H451M447.6,292.8H451M447.6,307.5H451M447.6,324.3H451M447.6,336H451M448.6,328.8H451M448.6,331.8H451M448.6,340.3H451M448.6,343.3H451M448.6,346.8H451" stroke="#111" stroke-width="0.8"/>
<path d="M480.33,349V351.4M483.45,349V351.4M485.66,349V351.4M487.37,349V351.4M488.77,349V351.4M489.96,349V351.4M490.98,349V351.4M491.89,349V351.4M497,349V351.4M499.52,349V351.4M501.31,349V351.4M502.7,349V351.4M503.83,349V351.4M504.78,349V351.4M505.61,349V351.4M506.35,349V351.4M465.4,349V352.4M475,349V352.4M492.7,349V352.4M507,349V352.4M454,349V351.4M457,349V351.4M460,349V351.4M462.5,349V351.4M468.5,349V351.4M471.5,349V351.4" stroke="#111" stroke-width="0.8"/>
<text x="442.4" y="295.2" font-size="6.3" text-anchor="end" fill="#222" stroke="#222" stroke-width="0.04">10</text>
<text x="442.5" y="292.7" font-size="3.8" fill="#222" stroke="#222" stroke-width="0.04">5</text>
<text x="442.4" y="309.2" font-size="6.3" text-anchor="end" fill="#222" stroke="#222" stroke-width="0.04">10</text>
<text x="442.5" y="306.7" font-size="3.8" fill="#222" stroke="#222" stroke-width="0.04">4</text>
<text x="442.4" y="326.6" font-size="6.3" text-anchor="end" fill="#222" stroke="#222" stroke-width="0.04">10</text>
<text x="442.5" y="324.1" font-size="3.8" fill="#222" stroke="#222" stroke-width="0.04">3</text>
<text x="445.5" y="337.8" font-size="6.3" text-anchor="end" fill="#222" stroke="#222" stroke-width="0.04">0</text>
<text x="465.05" y="360.8" font-size="6.3" text-anchor="middle" fill="#222" stroke="#222" stroke-width="0.04">0</text>
<text x="474.2" y="360.8" font-size="6.3" text-anchor="middle" fill="#222" stroke="#222" stroke-width="0.04">10</text>
<text x="477.6" y="358.3" font-size="3.8" fill="#222" stroke="#222" stroke-width="0.04">3</text>
<text x="491.9" y="360.8" font-size="6.3" text-anchor="middle" fill="#222" stroke="#222" stroke-width="0.04">10</text>
<text x="495.3" y="358.3" font-size="3.8" fill="#222" stroke="#222" stroke-width="0.04">4</text>
<text x="506.1" y="360.8" font-size="6.3" text-anchor="middle" fill="#222" stroke="#222" stroke-width="0.04">10</text>
<text x="509.5" y="358.3" font-size="3.8" fill="#222" stroke="#222" stroke-width="0.04">5</text>
<line x1="28.7" y1="365.2" x2="28.7" y2="207" stroke="#555" stroke-width="1.1"/>
<path d="M28.7,202.8 L26.3,208.6 L28.7,207.4 L31.1,208.6 Z" fill="#111"/>
<line x1="28.2" y1="365.2" x2="508.5" y2="365.2" stroke="#444" stroke-width="1.3"/>
<path d="M513.2,365.2 L507.4,362.8 L508.6,365.2 L507.4,367.6 Z" fill="#111"/>
<text x="6.9" y="189.4" font-size="11.2" font-weight="bold" fill="#000" stroke="#000" stroke-width="0.04" textLength="7.68" lengthAdjust="spacingAndGlyphs">C</text>
<g transform="translate(11.6,234.1) rotate(-90)">
<text x="0" y="0" font-size="6.6" text-anchor="middle" fill="#333" stroke="#333" stroke-width="0.03" textLength="24" lengthAdjust="spacingAndGlyphs">wild-type</text>
</g>
<g transform="translate(13.1,317.9) rotate(-90)">
<text x="0" y="0" font-size="7.0" text-anchor="middle" fill="#333" stroke="#333" stroke-width="0.03" textLength="19.6" lengthAdjust="spacingAndGlyphs">C481S</text>
</g>
<g transform="translate(23.9,284.1) rotate(-90)">
<text x="0" y="0" font-size="8.4" text-anchor="middle" fill="#111" stroke="#111" stroke-width="0.15" textLength="13.6" lengthAdjust="spacingAndGlyphs">CD19</text>
</g>
<text x="271" y="375.4" font-size="8.4" text-anchor="middle" fill="#111" stroke="#111" stroke-width="0.15" textLength="14" lengthAdjust="spacingAndGlyphs">CD25</text>
<g transform="translate(29,0) scale(0.956,1)"><text x="0" y="385.9" font-size="6.6" fill="#1a1a1a" stroke="#1a1a1a" stroke-width="0.04"><tspan font-weight="bold">Spleen</tspan> GR1/MAC1/TER119/NK1.1<tspan font-size="3.6" dy="-2.6">low/-</tspan><tspan dy="2.6"> Annexin V</tspan><tspan font-size="3.6" dy="-2.6">-</tspan><tspan dy="2.6"> LIVE/DEAD aqua</tspan><tspan font-size="3.6" dy="-2.6">-</tspan><tspan dy="2.6"> CD3</tspan><tspan font-size="3.6" dy="-2.6">-</tspan></text></g>
</svg>
</body></html>
